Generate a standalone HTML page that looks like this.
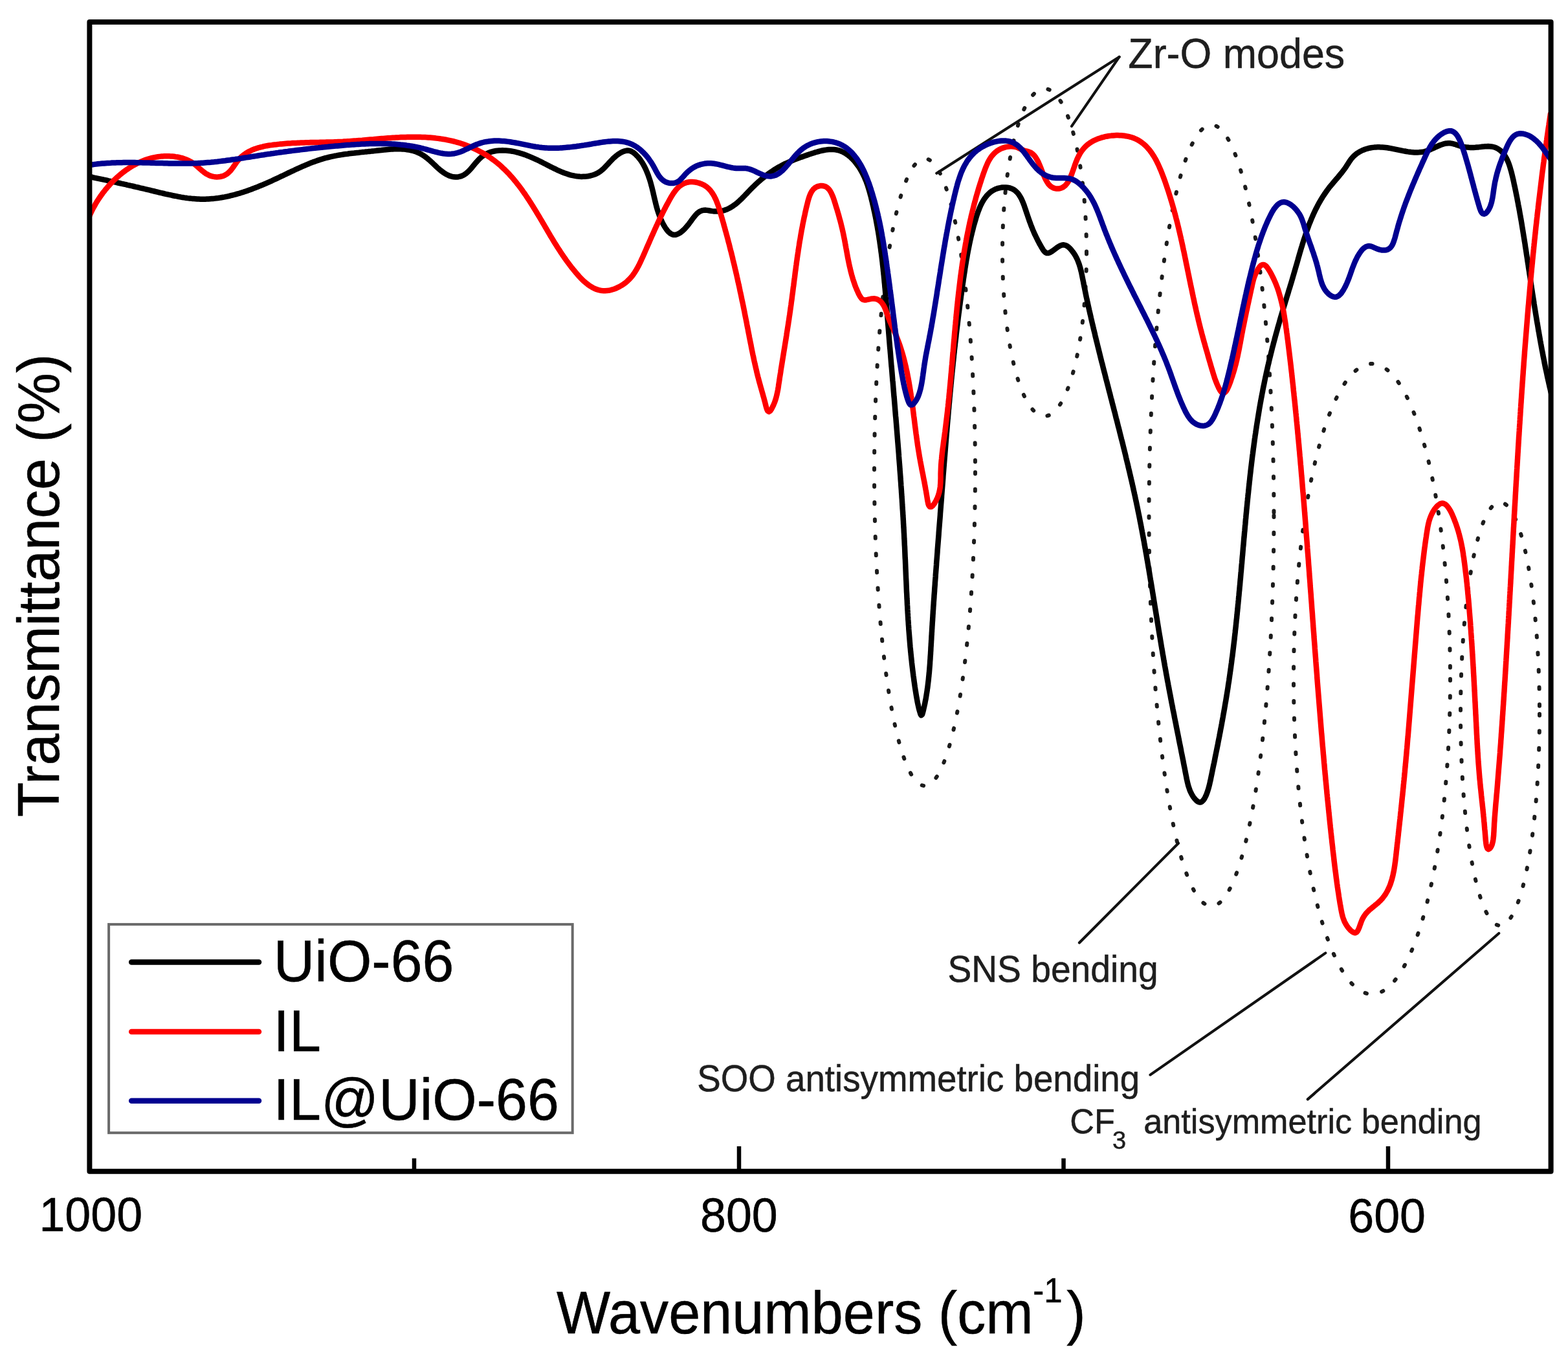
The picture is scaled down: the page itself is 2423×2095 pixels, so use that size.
<!DOCTYPE html>
<html><head><meta charset="utf-8"><title>FTIR spectra</title>
<style>html,body{margin:0;padding:0;background:#fff;}body{width:2423px;height:2095px;overflow:hidden;}svg{display:block;}</style>
</head><body><svg xmlns="http://www.w3.org/2000/svg" width="2423" height="2095" viewBox="0 0 2423 2095"><defs><clipPath id="pc"><rect x="139" y="34" width="2257" height="1774"/></clipPath></defs><g fill="none" stroke="#1c1c1c" stroke-width="6" stroke-linecap="round" stroke-dasharray="2.5 24"><ellipse cx="1429.0" cy="729.5" rx="78.0" ry="484.5"/><ellipse cx="1614.0" cy="390.0" rx="65.0" ry="253.0"/><ellipse cx="1872.0" cy="796.5" rx="96.5" ry="603.5"/><ellipse cx="2120.0" cy="1049.0" rx="121.0" ry="487.0"/><ellipse cx="2318.0" cy="1103.0" rx="61.0" ry="327.0"/></g><g stroke="#111" stroke-width="4.2" stroke-linecap="round"><line x1="1447.3" y1="267.7" x2="1729.6" y2="87.9"/><line x1="1655.9" y1="195.1" x2="1729.6" y2="87.9"/><line x1="1821.0" y1="1302.7" x2="1667.9" y2="1456.5"/><line x1="2048.3" y1="1472.4" x2="1777.5" y2="1660.6"/><line x1="2316.2" y1="1442.0" x2="2020.8" y2="1698.3"/></g><g fill="none" stroke-width="8.5" stroke-linejoin="round" stroke-linecap="round" clip-path="url(#pc)"><path stroke="#000" d="M140.8,273.5L143.3,274.0 145.7,274.6 148.2,275.1 150.6,275.6 153.1,276.1 155.5,276.6 158.0,277.1 160.4,277.7 162.9,278.2 165.3,278.7 167.7,279.3 170.2,279.8 172.6,280.3 175.1,280.9 177.5,281.4 179.9,281.9 182.4,282.5 184.8,283.0 187.3,283.6 189.7,284.1 192.1,284.7 194.6,285.2 197.0,285.8 199.5,286.3 201.9,286.9 204.3,287.4 206.8,288.0 209.2,288.6 211.6,289.1 214.1,289.7 216.5,290.3 218.9,290.8 221.4,291.4 223.8,292.0 226.2,292.6 228.7,293.2 231.1,293.7 233.5,294.3 235.9,294.9 238.4,295.5 240.8,296.1 243.2,296.7 245.7,297.3 248.1,297.9 250.5,298.4 253.0,299.0 255.4,299.6 257.8,300.1 260.3,300.7 262.7,301.2 265.2,301.7 267.6,302.3 270.0,302.7 272.5,303.2 275.0,303.7 277.4,304.1 279.9,304.6 282.3,305.0 284.8,305.4 287.3,305.7 289.8,306.1 292.2,306.4 294.7,306.6 297.2,306.9 299.7,307.1 302.2,307.3 304.7,307.5 307.2,307.6 309.7,307.7 312.2,307.7 314.7,307.7 317.2,307.7 319.7,307.6 322.2,307.5 324.7,307.3 327.2,307.1 329.7,306.9 332.1,306.6 334.6,306.3 337.1,306.0 339.6,305.6 342.0,305.2 344.5,304.8 347.0,304.4 349.4,303.9 351.9,303.4 354.3,302.8 356.7,302.2 359.2,301.6 361.6,301.0 364.0,300.4 366.4,299.7 368.8,299.0 371.2,298.3 373.6,297.5 376.0,296.8 378.3,296.0 380.7,295.2 383.1,294.4 385.4,293.5 387.8,292.7 390.1,291.8 392.4,290.9 394.8,290.0 397.1,289.1 399.4,288.2 401.7,287.2 404.0,286.3 406.3,285.3 408.6,284.3 410.9,283.3 413.2,282.3 415.5,281.3 417.8,280.3 420.1,279.3 422.3,278.2 424.6,277.2 426.9,276.1 429.1,275.1 431.4,274.0 433.7,272.9 435.9,271.8 438.2,270.8 440.4,269.7 442.7,268.6 444.9,267.5 447.2,266.5 449.5,265.4 451.7,264.3 454.0,263.3 456.2,262.2 458.5,261.2 460.8,260.1 463.1,259.1 465.3,258.1 467.6,257.0 469.9,256.1 472.2,255.1 474.5,254.1 476.8,253.2 479.2,252.2 481.5,251.3 483.8,250.4 486.2,249.6 488.5,248.7 490.9,247.9 493.3,247.1 495.6,246.3 498.0,245.6 500.4,244.9 502.8,244.2 505.2,243.6 507.7,243.0 510.1,242.4 512.5,241.8 515.0,241.3 517.4,240.8 519.9,240.4 522.3,239.9 524.8,239.5 527.3,239.1 529.7,238.7 532.2,238.3 534.7,238.0 537.2,237.7 539.6,237.3 542.1,237.0 544.6,236.7 547.1,236.5 549.6,236.2 552.1,235.9 554.5,235.7 557.0,235.4 559.5,235.1 562.0,234.9 564.5,234.6 567.0,234.4 569.5,234.1 572.0,233.9 574.4,233.6 576.9,233.4 579.4,233.1 581.9,232.8 584.4,232.5 586.9,232.2 589.3,232.0 591.8,231.7 594.3,231.4 596.8,231.2 599.3,231.0 601.8,230.8 604.3,230.6 606.8,230.4 609.3,230.3 611.8,230.3 614.3,230.2 616.8,230.2 619.3,230.3 621.8,230.4 624.3,230.6 626.7,230.8 629.2,231.2 631.7,231.6 634.1,232.0 636.6,232.6 639.0,233.2 641.4,234.0 643.7,234.8 646.0,235.8 648.3,236.8 650.5,238.0 652.7,239.2 654.8,240.6 656.8,242.0 658.8,243.5 660.8,245.1 662.7,246.7 664.6,248.4 666.4,250.0 668.2,251.7 670.1,253.5 671.9,255.2 673.7,256.9 675.5,258.6 677.4,260.3 679.3,261.9 681.2,263.5 683.2,265.0 685.2,266.5 687.3,267.9 689.4,269.2 691.6,270.3 693.9,271.4 696.3,272.2 698.7,272.8 701.1,273.3 703.6,273.5 706.1,273.5 708.6,273.2 711.0,272.7 713.4,271.9 715.7,270.9 717.9,269.6 719.9,268.2 721.8,266.6 723.7,264.9 725.4,263.1 727.1,261.3 728.7,259.4 730.3,257.5 731.9,255.6 733.5,253.6 735.1,251.7 736.8,249.8 738.4,248.0 740.2,246.1 741.9,244.4 743.8,242.8 745.8,241.2 747.9,239.8 750.0,238.5 752.2,237.4 754.5,236.3 756.8,235.4 759.2,234.7 761.6,234.0 764.1,233.5 766.5,233.0 769.0,232.7 771.5,232.5 774.0,232.4 776.5,232.3 779.0,232.4 781.5,232.5 784.0,232.7 786.4,233.0 788.9,233.3 791.4,233.7 793.8,234.2 796.3,234.7 798.7,235.3 801.1,235.9 803.5,236.6 805.9,237.3 808.3,238.1 810.7,238.9 813.0,239.8 815.4,240.7 817.7,241.6 820.0,242.6 822.3,243.6 824.6,244.6 826.8,245.6 829.1,246.7 831.4,247.7 833.6,248.8 835.8,249.9 838.1,251.1 840.3,252.2 842.5,253.3 844.8,254.5 847.0,255.6 849.2,256.7 851.4,257.9 853.7,259.0 855.9,260.1 858.2,261.2 860.4,262.3 862.7,263.3 865.0,264.3 867.3,265.3 869.6,266.3 871.9,267.2 874.3,268.0 876.6,268.8 879.0,269.6 881.4,270.3 883.8,270.9 886.3,271.4 888.7,271.9 891.2,272.3 893.7,272.6 896.2,272.8 898.7,272.9 901.2,272.8 903.7,272.7 906.2,272.5 908.6,272.2 911.1,271.8 913.5,271.2 915.9,270.5 918.3,269.7 920.6,268.8 922.9,267.7 925.0,266.5 927.1,265.1 929.1,263.6 931.0,262.0 932.9,260.3 934.7,258.5 936.4,256.7 938.1,254.9 939.8,253.1 941.5,251.2 943.2,249.4 944.9,247.6 946.6,245.8 948.4,244.0 950.3,242.4 952.2,240.8 954.2,239.2 956.2,237.8 958.3,236.5 960.5,235.3 962.8,234.2 965.2,233.4 967.6,232.8 970.1,232.6 972.6,232.8 975.0,233.6 977.2,234.7 979.3,236.1 981.2,237.6 983.0,239.4 984.8,241.2 986.4,243.0 988.0,245.0 989.5,246.9 990.9,249.0 992.3,251.1 993.6,253.2 994.8,255.4 996.0,257.6 997.1,259.9 998.1,262.1 999.1,264.4 1000.1,266.7 1001.0,269.1 1001.9,271.4 1002.7,273.8 1003.5,276.1 1004.3,278.5 1005.0,280.9 1005.7,283.3 1006.3,285.7 1007.0,288.1 1007.6,290.5 1008.2,293.0 1008.8,295.4 1009.4,297.8 1009.9,300.3 1010.5,302.7 1011.0,305.1 1011.6,307.6 1012.2,310.0 1012.8,312.4 1013.4,314.9 1014.0,317.3 1014.6,319.7 1015.3,322.1 1016.0,324.5 1016.8,326.9 1017.6,329.3 1018.4,331.6 1019.3,334.0 1020.2,336.3 1021.1,338.6 1022.2,340.9 1023.2,343.1 1024.4,345.4 1025.5,347.6 1026.8,349.7 1028.1,351.9 1029.5,353.9 1031.0,355.9 1032.7,357.8 1034.5,359.5 1036.5,361.0 1038.7,362.1 1041.1,362.8 1043.6,362.8 1046.0,362.2 1048.3,361.2 1050.5,359.9 1052.5,358.5 1054.5,356.9 1056.3,355.2 1058.1,353.4 1059.8,351.6 1061.4,349.7 1063.0,347.8 1064.6,345.8 1066.1,343.8 1067.6,341.8 1069.0,339.8 1070.5,337.8 1072.0,335.8 1073.6,333.8 1075.2,331.9 1076.9,330.1 1078.8,328.5 1080.8,327.1 1083.1,325.9 1085.4,325.1 1087.9,324.7 1090.4,324.6 1092.9,324.9 1095.3,325.3 1097.8,325.7 1100.3,326.1 1102.7,326.4 1105.2,326.6 1107.7,326.6 1110.2,326.5 1112.7,326.2 1115.2,325.8 1117.6,325.3 1120.0,324.6 1122.4,323.8 1124.7,322.8 1126.9,321.7 1129.1,320.5 1131.3,319.2 1133.3,317.8 1135.4,316.3 1137.3,314.8 1139.3,313.2 1141.1,311.6 1143.0,309.9 1144.8,308.2 1146.6,306.4 1148.4,304.7 1150.1,302.9 1151.8,301.1 1153.6,299.3 1155.3,297.4 1157.0,295.6 1158.7,293.8 1160.5,292.0 1162.2,290.3 1164.0,288.5 1165.8,286.8 1167.6,285.0 1169.4,283.3 1171.3,281.6 1173.2,280.0 1175.0,278.3 1176.9,276.7 1178.9,275.1 1180.8,273.6 1182.8,272.0 1184.8,270.5 1186.8,269.0 1188.8,267.5 1190.8,266.1 1192.9,264.7 1195.0,263.3 1197.1,261.9 1199.2,260.6 1201.3,259.3 1203.5,258.1 1205.7,256.9 1207.9,255.7 1210.1,254.5 1212.3,253.4 1214.6,252.3 1216.9,251.3 1219.1,250.3 1221.4,249.3 1223.7,248.3 1226.1,247.3 1228.4,246.4 1230.7,245.5 1233.0,244.6 1235.4,243.8 1237.7,242.9 1240.1,242.1 1242.5,241.3 1244.8,240.4 1247.2,239.6 1249.5,238.8 1251.9,238.0 1254.3,237.2 1256.7,236.5 1259.0,235.7 1261.4,235.0 1263.8,234.3 1266.3,233.6 1268.7,233.0 1271.1,232.5 1273.6,232.0 1276.0,231.6 1278.5,231.3 1281.0,231.0 1283.5,230.9 1286.0,230.9 1288.5,231.0 1291.0,231.3 1293.4,231.7 1295.9,232.3 1298.2,233.1 1300.6,234.0 1302.8,235.0 1305.1,236.2 1307.2,237.5 1309.3,238.9 1311.3,240.4 1313.2,241.9 1315.1,243.6 1316.9,245.3 1318.6,247.1 1320.3,249.0 1321.9,250.9 1323.4,252.9 1324.9,254.9 1326.4,256.9 1327.8,259.0 1329.1,261.1 1330.4,263.3 1331.6,265.4 1332.8,267.6 1333.9,269.9 1335.0,272.1 1336.0,274.4 1337.0,276.7 1338.0,279.0 1338.9,281.3 1339.7,283.7 1340.6,286.0 1341.3,288.4 1342.1,290.8 1342.8,293.2 1343.5,295.6 1344.2,298.0 1344.8,300.4 1345.5,302.8 1346.1,305.2 1346.7,307.7 1347.3,310.1 1347.9,312.5 1348.4,315.0 1349.0,317.4 1349.6,319.8 1350.1,322.3 1350.6,324.7 1351.2,327.2 1351.7,329.6 1352.2,332.1 1352.7,334.5 1353.2,337.0 1353.7,339.4 1354.1,341.9 1354.6,344.3 1355.0,346.8 1355.5,349.2 1355.9,351.7 1356.3,354.2 1356.8,356.6 1357.2,359.1 1357.6,361.6 1358.0,364.0 1358.4,366.5 1358.7,369.0 1359.1,371.4 1359.5,373.9 1359.8,376.4 1360.2,378.9 1360.5,381.3 1360.9,383.8 1361.2,386.3 1361.5,388.8 1361.9,391.2 1362.2,393.7 1362.5,396.2 1362.8,398.7 1363.1,401.2 1363.4,403.6 1363.7,406.1 1363.9,408.6 1364.2,411.1 1364.5,413.6 1364.8,416.1 1365.0,418.6 1365.3,421.0 1365.5,423.5 1365.8,426.0 1366.0,428.5 1366.3,431.0 1366.5,433.5 1366.7,436.0 1367.0,438.5 1367.2,440.9 1367.4,443.4 1367.7,445.9 1367.9,448.4 1368.1,450.9 1368.3,453.4 1368.5,455.9 1368.7,458.4 1369.0,460.9 1369.2,463.4 1369.4,465.8 1369.6,468.3 1369.8,470.8 1370.0,473.3 1370.2,475.8 1370.4,478.3 1370.6,480.8 1370.8,483.3 1371.0,485.8 1371.2,488.3 1371.4,490.8 1371.6,493.2 1371.8,495.7 1372.0,498.2 1372.2,500.7 1372.4,503.2 1372.6,505.7 1372.8,508.2 1373.0,510.7 1373.2,513.2 1373.4,515.7 1373.6,518.2 1373.8,520.6 1374.0,523.1 1374.2,525.6 1374.4,528.1 1374.6,530.6 1374.8,533.1 1375.0,535.6 1375.2,538.1 1375.5,540.6 1375.7,543.1 1375.9,545.6 1376.1,548.0 1376.3,550.5 1376.5,553.0 1376.7,555.5 1376.9,558.0 1377.1,560.5 1377.3,563.0 1377.5,565.5 1377.8,568.0 1378.0,570.5 1378.2,573.0 1378.4,575.4 1378.6,577.9 1378.8,580.4 1379.0,582.9 1379.2,585.4 1379.4,587.9 1379.7,590.4 1379.9,592.9 1380.1,595.4 1380.3,597.9 1380.5,600.4 1380.7,602.8 1380.9,605.3 1381.1,607.8 1381.3,610.3 1381.5,612.8 1381.8,615.3 1382.0,617.8 1382.2,620.3 1382.4,622.8 1382.6,625.3 1382.8,627.7 1383.0,630.2 1383.2,632.7 1383.4,635.2 1383.6,637.7 1383.8,640.2 1384.0,642.7 1384.3,645.2 1384.5,647.7 1384.7,650.2 1384.9,652.7 1385.1,655.1 1385.3,657.6 1385.5,660.1 1385.7,662.6 1385.9,665.1 1386.1,667.6 1386.3,670.1 1386.5,672.6 1386.7,675.1 1386.9,677.6 1387.1,680.1 1387.3,682.6 1387.5,685.0 1387.7,687.5 1387.9,690.0 1388.1,692.5 1388.3,695.0 1388.5,697.5 1388.7,700.0 1388.9,702.5 1389.0,705.0 1389.2,707.5 1389.4,710.0 1389.6,712.5 1389.8,714.9 1390.0,717.4 1390.2,719.9 1390.4,722.4 1390.5,724.9 1390.7,727.4 1390.9,729.9 1391.1,732.4 1391.3,734.9 1391.5,737.4 1391.6,739.9 1391.8,742.4 1392.0,744.9 1392.2,747.4 1392.3,749.8 1392.5,752.3 1392.7,754.8 1392.9,757.3 1393.0,759.8 1393.2,762.3 1393.4,764.8 1393.5,767.3 1393.7,769.8 1393.9,772.3 1394.0,774.8 1394.2,777.3 1394.3,779.8 1394.5,782.3 1394.6,784.8 1394.8,787.3 1395.0,789.8 1395.1,792.2 1395.3,794.7 1395.4,797.2 1395.6,799.7 1395.7,802.2 1395.9,804.7 1396.0,807.2 1396.1,809.7 1396.3,812.2 1396.4,814.7 1396.6,817.2 1396.7,819.7 1396.8,822.2 1397.0,824.7 1397.1,827.2 1397.2,829.7 1397.3,832.2 1397.5,834.7 1397.6,837.2 1397.7,839.7 1397.8,842.2 1398.0,844.7 1398.1,847.2 1398.2,849.7 1398.3,852.2 1398.4,854.6 1398.5,857.1 1398.6,859.6 1398.7,862.1 1398.9,864.6 1399.0,867.1 1399.1,869.6 1399.2,872.1 1399.3,874.6 1399.4,877.1 1399.5,879.6 1399.6,882.1 1399.7,884.6 1399.8,887.1 1399.9,889.6 1400.0,892.1 1400.1,894.6 1400.3,897.1 1400.4,899.6 1400.5,902.1 1400.6,904.6 1400.7,907.1 1400.8,909.6 1400.9,912.1 1401.0,914.6 1401.2,917.1 1401.3,919.6 1401.4,922.1 1401.5,924.6 1401.7,927.1 1401.8,929.6 1401.9,932.1 1402.0,934.5 1402.2,937.0 1402.3,939.5 1402.4,942.0 1402.6,944.5 1402.7,947.0 1402.9,949.5 1403.0,952.0 1403.2,954.5 1403.3,957.0 1403.5,959.5 1403.7,962.0 1403.8,964.5 1404.0,967.0 1404.2,969.5 1404.3,972.0 1404.5,974.5 1404.7,977.0 1404.9,979.4 1405.1,981.9 1405.3,984.4 1405.5,986.9 1405.7,989.4 1405.9,991.9 1406.1,994.4 1406.3,996.9 1406.5,999.4 1406.8,1001.9 1407.0,1004.4 1407.2,1006.8 1407.5,1009.3 1407.7,1011.8 1408.0,1014.3 1408.2,1016.8 1408.5,1019.3 1408.8,1021.8 1409.0,1024.2 1409.3,1026.7 1409.6,1029.2 1409.9,1031.7 1410.2,1034.2 1410.5,1036.7 1410.8,1039.1 1411.1,1041.6 1411.4,1044.1 1411.8,1046.6 1412.1,1049.1 1412.4,1051.5 1412.8,1054.0 1413.1,1056.5 1413.5,1059.0 1413.8,1061.4 1414.2,1063.9 1414.6,1066.4 1415.0,1068.8 1415.4,1071.3 1415.8,1073.8 1416.2,1076.2 1416.6,1078.7 1417.1,1081.2 1417.5,1083.6 1418.0,1086.1 1418.5,1088.5 1419.1,1091.0 1419.6,1093.4 1420.2,1095.8 1420.9,1098.2 1421.6,1100.6 1422.3,1103.0 1423.4,1105.2 1425.0,1104.1 1425.7,1101.7 1426.4,1099.3 1427.0,1096.9 1427.5,1094.4 1428.1,1092.0 1428.6,1089.6 1429.2,1087.1 1429.6,1084.7 1430.1,1082.2 1430.6,1079.8 1431.0,1077.3 1431.4,1074.8 1431.8,1072.4 1432.2,1069.9 1432.6,1067.4 1432.9,1064.9 1433.3,1062.5 1433.6,1060.0 1433.9,1057.5 1434.2,1055.0 1434.5,1052.5 1434.8,1050.1 1435.0,1047.6 1435.3,1045.1 1435.5,1042.6 1435.8,1040.1 1436.0,1037.6 1436.2,1035.1 1436.4,1032.6 1436.6,1030.1 1436.8,1027.7 1437.0,1025.2 1437.1,1022.7 1437.3,1020.2 1437.5,1017.7 1437.6,1015.2 1437.8,1012.7 1438.0,1010.2 1438.1,1007.7 1438.3,1005.2 1438.4,1002.7 1438.5,1000.2 1438.7,997.7 1438.8,995.2 1439.0,992.7 1439.1,990.2 1439.3,987.7 1439.4,985.2 1439.5,982.7 1439.7,980.3 1439.8,977.8 1440.0,975.3 1440.1,972.8 1440.3,970.3 1440.4,967.8 1440.6,965.3 1440.7,962.8 1440.9,960.3 1441.1,957.8 1441.2,955.3 1441.4,952.8 1441.5,950.3 1441.7,947.8 1441.8,945.3 1442.0,942.8 1442.2,940.3 1442.3,937.8 1442.5,935.4 1442.7,932.9 1442.8,930.4 1443.0,927.9 1443.2,925.4 1443.4,922.9 1443.5,920.4 1443.7,917.9 1443.9,915.4 1444.1,912.9 1444.2,910.4 1444.4,907.9 1444.6,905.4 1444.8,902.9 1444.9,900.4 1445.1,898.0 1445.3,895.5 1445.5,893.0 1445.7,890.5 1445.8,888.0 1446.0,885.5 1446.2,883.0 1446.4,880.5 1446.6,878.0 1446.8,875.5 1447.0,873.0 1447.1,870.5 1447.3,868.0 1447.5,865.5 1447.7,863.1 1447.9,860.6 1448.1,858.1 1448.3,855.6 1448.5,853.1 1448.6,850.6 1448.8,848.1 1449.0,845.6 1449.2,843.1 1449.4,840.6 1449.6,838.1 1449.8,835.6 1450.0,833.1 1450.2,830.7 1450.4,828.2 1450.6,825.7 1450.7,823.2 1450.9,820.7 1451.1,818.2 1451.3,815.7 1451.5,813.2 1451.7,810.7 1451.9,808.2 1452.1,805.7 1452.3,803.2 1452.5,800.8 1452.7,798.3 1452.9,795.8 1453.0,793.3 1453.2,790.8 1453.4,788.3 1453.6,785.8 1453.8,783.3 1454.0,780.8 1454.2,778.3 1454.4,775.8 1454.6,773.3 1454.8,770.8 1455.0,768.4 1455.1,765.9 1455.3,763.4 1455.5,760.9 1455.7,758.4 1455.9,755.9 1456.1,753.4 1456.3,750.9 1456.5,748.4 1456.7,745.9 1456.9,743.4 1457.1,740.9 1457.3,738.4 1457.4,736.0 1457.6,733.5 1457.8,731.0 1458.0,728.5 1458.2,726.0 1458.4,723.5 1458.6,721.0 1458.8,718.5 1459.0,716.0 1459.2,713.5 1459.4,711.0 1459.6,708.5 1459.8,706.1 1460.0,703.6 1460.2,701.1 1460.4,698.6 1460.6,696.1 1460.8,693.6 1461.0,691.1 1461.2,688.6 1461.4,686.1 1461.6,683.6 1461.8,681.1 1462.0,678.7 1462.2,676.2 1462.4,673.7 1462.6,671.2 1462.8,668.7 1463.1,666.2 1463.3,663.7 1463.5,661.2 1463.7,658.7 1463.9,656.2 1464.1,653.7 1464.3,651.3 1464.5,648.8 1464.8,646.3 1465.0,643.8 1465.2,641.3 1465.4,638.8 1465.6,636.3 1465.8,633.8 1466.1,631.3 1466.3,628.8 1466.5,626.4 1466.7,623.9 1467.0,621.4 1467.2,618.9 1467.4,616.4 1467.6,613.9 1467.9,611.4 1468.1,608.9 1468.3,606.4 1468.6,604.0 1468.8,601.5 1469.0,599.0 1469.3,596.5 1469.5,594.0 1469.8,591.5 1470.0,589.0 1470.2,586.5 1470.5,584.0 1470.7,581.6 1471.0,579.1 1471.2,576.6 1471.5,574.1 1471.7,571.6 1472.0,569.1 1472.2,566.6 1472.5,564.2 1472.7,561.7 1473.0,559.2 1473.3,556.7 1473.5,554.2 1473.8,551.7 1474.0,549.2 1474.3,546.8 1474.6,544.3 1474.8,541.8 1475.1,539.3 1475.4,536.8 1475.7,534.3 1475.9,531.8 1476.2,529.4 1476.5,526.9 1476.8,524.4 1477.1,521.9 1477.4,519.4 1477.6,516.9 1477.9,514.5 1478.2,512.0 1478.5,509.5 1478.8,507.0 1479.1,504.5 1479.4,502.1 1479.7,499.6 1480.0,497.1 1480.3,494.6 1480.6,492.1 1480.9,489.6 1481.2,487.2 1481.5,484.7 1481.9,482.2 1482.2,479.7 1482.5,477.3 1482.8,474.8 1483.1,472.3 1483.5,469.8 1483.8,467.3 1484.1,464.9 1484.5,462.4 1484.8,459.9 1485.1,457.4 1485.5,455.0 1485.8,452.5 1486.2,450.0 1486.5,447.5 1486.9,445.1 1487.2,442.6 1487.6,440.1 1487.9,437.6 1488.3,435.2 1488.6,432.7 1489.0,430.2 1489.4,427.7 1489.7,425.3 1490.1,422.8 1490.5,420.3 1490.9,417.9 1491.2,415.4 1491.6,412.9 1492.0,410.4 1492.4,408.0 1492.8,405.5 1493.2,403.0 1493.6,400.6 1494.1,398.1 1494.5,395.7 1494.9,393.2 1495.4,390.7 1495.8,388.3 1496.3,385.8 1496.8,383.4 1497.3,380.9 1497.8,378.5 1498.3,376.0 1498.8,373.6 1499.3,371.1 1499.9,368.7 1500.4,366.3 1501.0,363.8 1501.6,361.4 1502.1,359.0 1502.8,356.5 1503.4,354.1 1504.0,351.7 1504.6,349.3 1505.3,346.9 1506.0,344.5 1506.7,342.1 1507.4,339.7 1508.1,337.3 1508.8,334.9 1509.6,332.5 1510.4,330.1 1511.2,327.8 1512.1,325.4 1513.0,323.1 1513.9,320.8 1514.9,318.5 1516.0,316.2 1517.1,314.0 1518.3,311.8 1519.6,309.6 1520.9,307.5 1522.4,305.5 1523.9,303.5 1525.5,301.6 1527.2,299.8 1529.1,298.1 1531.0,296.5 1533.0,295.1 1535.2,293.8 1537.4,292.7 1539.7,291.7 1542.1,290.9 1544.5,290.3 1547.0,289.8 1549.4,289.5 1551.9,289.4 1554.4,289.5 1556.9,289.7 1559.4,290.2 1561.8,290.9 1564.1,291.8 1566.3,292.9 1568.4,294.3 1570.3,295.9 1572.1,297.7 1573.7,299.6 1575.1,301.7 1576.4,303.8 1577.7,306.0 1578.8,308.2 1579.8,310.5 1580.8,312.8 1581.7,315.1 1582.6,317.4 1583.4,319.8 1584.2,322.2 1585.0,324.5 1585.8,326.9 1586.6,329.3 1587.4,331.6 1588.2,334.0 1589.0,336.4 1589.8,338.7 1590.6,341.1 1591.5,343.4 1592.4,345.8 1593.2,348.1 1594.2,350.5 1595.1,352.8 1596.0,355.1 1597.0,357.4 1598.0,359.7 1599.0,362.0 1600.1,364.2 1601.2,366.5 1602.3,368.7 1603.4,371.0 1604.6,373.2 1605.7,375.4 1606.9,377.6 1608.2,379.7 1609.4,381.9 1610.7,384.0 1612.0,386.2 1613.5,388.2 1615.3,389.9 1617.5,391.1 1620.0,391.0 1622.3,390.2 1624.5,389.0 1626.6,387.6 1628.6,386.1 1630.6,384.6 1632.6,383.1 1634.6,381.7 1636.8,380.4 1639.0,379.3 1641.4,378.5 1643.8,378.3 1646.3,378.8 1648.5,379.9 1650.6,381.3 1652.5,382.9 1654.2,384.7 1655.8,386.6 1657.4,388.6 1658.9,390.6 1660.3,392.7 1661.6,394.8 1662.8,397.0 1663.9,399.2 1665.0,401.5 1665.9,403.8 1666.8,406.1 1667.7,408.5 1668.4,410.9 1669.1,413.3 1669.8,415.7 1670.4,418.1 1671.0,420.5 1671.5,423.0 1672.0,425.4 1672.5,427.9 1673.0,430.3 1673.5,432.8 1674.0,435.2 1674.4,437.7 1674.9,440.1 1675.4,442.6 1675.9,445.0 1676.4,447.5 1676.9,449.9 1677.4,452.4 1677.9,454.8 1678.4,457.3 1678.9,459.7 1679.5,462.2 1680.0,464.6 1680.5,467.0 1681.1,469.5 1681.6,471.9 1682.1,474.4 1682.7,476.8 1683.2,479.2 1683.8,481.7 1684.3,484.1 1684.9,486.5 1685.5,489.0 1686.0,491.4 1686.6,493.9 1687.1,496.3 1687.7,498.7 1688.3,501.2 1688.9,503.6 1689.4,506.0 1690.0,508.5 1690.6,510.9 1691.2,513.3 1691.8,515.7 1692.3,518.2 1692.9,520.6 1693.5,523.0 1694.1,525.5 1694.7,527.9 1695.3,530.3 1695.9,532.7 1696.5,535.2 1697.1,537.6 1697.7,540.0 1698.3,542.5 1698.9,544.9 1699.5,547.3 1700.1,549.7 1700.7,552.2 1701.3,554.6 1701.9,557.0 1702.5,559.4 1703.2,561.8 1703.8,564.3 1704.4,566.7 1705.0,569.1 1705.6,571.5 1706.2,574.0 1706.9,576.4 1707.5,578.8 1708.1,581.2 1708.7,583.6 1709.3,586.1 1710.0,588.5 1710.6,590.9 1711.2,593.3 1711.8,595.7 1712.5,598.2 1713.1,600.6 1713.7,603.0 1714.3,605.4 1715.0,607.8 1715.6,610.3 1716.2,612.7 1716.8,615.1 1717.5,617.5 1718.1,619.9 1718.7,622.4 1719.3,624.8 1720.0,627.2 1720.6,629.6 1721.2,632.0 1721.8,634.5 1722.5,636.9 1723.1,639.3 1723.7,641.7 1724.3,644.2 1724.9,646.6 1725.6,649.0 1726.2,651.4 1726.8,653.8 1727.4,656.3 1728.0,658.7 1728.7,661.1 1729.3,663.5 1729.9,665.9 1730.5,668.4 1731.1,670.8 1731.7,673.2 1732.3,675.6 1732.9,678.1 1733.6,680.5 1734.2,682.9 1734.8,685.3 1735.4,687.8 1736.0,690.2 1736.6,692.6 1737.2,695.0 1737.8,697.5 1738.4,699.9 1739.0,702.3 1739.6,704.8 1740.1,707.2 1740.7,709.6 1741.3,712.0 1741.9,714.5 1742.5,716.9 1743.1,719.3 1743.6,721.8 1744.2,724.2 1744.8,726.6 1745.4,729.1 1745.9,731.5 1746.5,733.9 1747.1,736.4 1747.6,738.8 1748.2,741.2 1748.8,743.7 1749.3,746.1 1749.9,748.5 1750.4,751.0 1751.0,753.4 1751.5,755.9 1752.0,758.3 1752.6,760.7 1753.1,763.2 1753.7,765.6 1754.2,768.1 1754.7,770.5 1755.2,773.0 1755.8,775.4 1756.3,777.8 1756.8,780.3 1757.3,782.7 1757.8,785.2 1758.3,787.6 1758.8,790.1 1759.3,792.5 1759.8,795.0 1760.3,797.4 1760.8,799.9 1761.3,802.3 1761.7,804.8 1762.2,807.2 1762.7,809.7 1763.2,812.2 1763.6,814.6 1764.1,817.1 1764.6,819.5 1765.0,822.0 1765.5,824.4 1765.9,826.9 1766.4,829.3 1766.9,831.8 1767.3,834.3 1767.8,836.7 1768.2,839.2 1768.6,841.6 1769.1,844.1 1769.5,846.6 1770.0,849.0 1770.4,851.5 1770.8,853.9 1771.3,856.4 1771.7,858.9 1772.1,861.3 1772.5,863.8 1773.0,866.3 1773.4,868.7 1773.8,871.2 1774.2,873.7 1774.6,876.1 1775.1,878.6 1775.5,881.0 1775.9,883.5 1776.3,886.0 1776.7,888.4 1777.1,890.9 1777.5,893.4 1777.9,895.8 1778.4,898.3 1778.8,900.8 1779.2,903.2 1779.6,905.7 1780.0,908.2 1780.4,910.6 1780.8,913.1 1781.2,915.6 1781.6,918.0 1782.0,920.5 1782.4,923.0 1782.8,925.4 1783.2,927.9 1783.6,930.4 1784.0,932.8 1784.4,935.3 1784.8,937.8 1785.2,940.2 1785.6,942.7 1786.0,945.2 1786.4,947.6 1786.8,950.1 1787.2,952.6 1787.6,955.0 1788.0,957.5 1788.4,960.0 1788.8,962.4 1789.2,964.9 1789.6,967.4 1790.0,969.8 1790.4,972.3 1790.8,974.8 1791.2,977.2 1791.6,979.7 1792.0,982.2 1792.5,984.6 1792.9,987.1 1793.3,989.6 1793.7,992.0 1794.1,994.5 1794.5,997.0 1794.9,999.4 1795.3,1001.9 1795.8,1004.4 1796.2,1006.8 1796.6,1009.3 1797.0,1011.8 1797.5,1014.2 1797.9,1016.7 1798.3,1019.1 1798.7,1021.6 1799.2,1024.1 1799.6,1026.5 1800.0,1029.0 1800.5,1031.4 1800.9,1033.9 1801.4,1036.4 1801.8,1038.8 1802.2,1041.3 1802.7,1043.7 1803.1,1046.2 1803.6,1048.7 1804.0,1051.1 1804.5,1053.6 1805.0,1056.0 1805.4,1058.5 1805.9,1061.0 1806.3,1063.4 1806.8,1065.9 1807.3,1068.3 1807.7,1070.8 1808.2,1073.2 1808.7,1075.7 1809.1,1078.1 1809.6,1080.6 1810.1,1083.1 1810.5,1085.5 1811.0,1088.0 1811.5,1090.4 1812.0,1092.9 1812.4,1095.3 1812.9,1097.8 1813.4,1100.2 1813.9,1102.7 1814.4,1105.1 1814.8,1107.6 1815.3,1110.0 1815.8,1112.5 1816.3,1114.9 1816.8,1117.4 1817.3,1119.8 1817.7,1122.3 1818.2,1124.7 1818.7,1127.2 1819.2,1129.7 1819.7,1132.1 1820.2,1134.6 1820.7,1137.0 1821.2,1139.5 1821.6,1141.9 1822.1,1144.4 1822.6,1146.8 1823.1,1149.3 1823.6,1151.7 1824.1,1154.2 1824.6,1156.6 1825.1,1159.1 1825.5,1161.5 1826.0,1164.0 1826.5,1166.4 1827.0,1168.9 1827.5,1171.3 1828.0,1173.8 1828.5,1176.2 1828.9,1178.7 1829.4,1181.1 1829.9,1183.6 1830.4,1186.0 1830.9,1188.5 1831.3,1190.9 1831.8,1193.4 1832.3,1195.9 1832.8,1198.3 1833.3,1200.8 1833.7,1203.2 1834.3,1205.7 1834.8,1208.1 1835.4,1210.5 1836.0,1213.0 1836.7,1215.4 1837.5,1217.7 1838.3,1220.1 1839.2,1222.4 1840.3,1224.7 1841.4,1226.9 1842.7,1229.1 1844.0,1231.2 1845.5,1233.2 1847.1,1235.1 1848.9,1236.9 1850.8,1238.4 1853.1,1239.5 1855.5,1239.4 1857.7,1238.2 1859.4,1236.4 1860.9,1234.4 1862.1,1232.2 1863.2,1230.0 1864.2,1227.7 1865.1,1225.3 1865.9,1223.0 1866.7,1220.6 1867.4,1218.2 1868.1,1215.8 1868.7,1213.4 1869.3,1211.0 1869.8,1208.5 1870.4,1206.1 1870.9,1203.6 1871.4,1201.2 1871.9,1198.7 1872.4,1196.3 1872.9,1193.9 1873.4,1191.4 1873.9,1189.0 1874.4,1186.5 1874.9,1184.1 1875.4,1181.6 1876.0,1179.2 1876.5,1176.7 1877.0,1174.3 1877.4,1171.8 1877.9,1169.4 1878.4,1166.9 1878.9,1164.5 1879.4,1162.0 1879.9,1159.6 1880.4,1157.1 1880.9,1154.7 1881.4,1152.2 1881.9,1149.8 1882.3,1147.3 1882.8,1144.9 1883.3,1142.4 1883.8,1140.0 1884.3,1137.5 1884.7,1135.0 1885.2,1132.6 1885.7,1130.1 1886.1,1127.7 1886.6,1125.2 1887.1,1122.8 1887.5,1120.3 1888.0,1117.8 1888.4,1115.4 1888.9,1112.9 1889.3,1110.5 1889.8,1108.0 1890.2,1105.6 1890.6,1103.1 1891.1,1100.6 1891.5,1098.2 1892.0,1095.7 1892.4,1093.2 1892.8,1090.8 1893.2,1088.3 1893.6,1085.9 1894.1,1083.4 1894.5,1080.9 1894.9,1078.5 1895.3,1076.0 1895.7,1073.5 1896.1,1071.1 1896.5,1068.6 1896.9,1066.1 1897.3,1063.7 1897.7,1061.2 1898.0,1058.7 1898.4,1056.2 1898.8,1053.8 1899.2,1051.3 1899.5,1048.8 1899.9,1046.4 1900.2,1043.9 1900.6,1041.4 1900.9,1038.9 1901.3,1036.5 1901.6,1034.0 1902.0,1031.5 1902.3,1029.0 1902.6,1026.6 1903.0,1024.1 1903.3,1021.6 1903.6,1019.1 1903.9,1016.6 1904.3,1014.2 1904.6,1011.7 1904.9,1009.2 1905.2,1006.7 1905.5,1004.2 1905.8,1001.8 1906.1,999.3 1906.4,996.8 1906.7,994.3 1907.0,991.8 1907.3,989.3 1907.6,986.9 1907.8,984.4 1908.1,981.9 1908.4,979.4 1908.7,976.9 1908.9,974.4 1909.2,972.0 1909.5,969.5 1909.8,967.0 1910.0,964.5 1910.3,962.0 1910.5,959.5 1910.8,957.0 1911.1,954.6 1911.3,952.1 1911.6,949.6 1911.8,947.1 1912.1,944.6 1912.3,942.1 1912.6,939.6 1912.8,937.1 1913.0,934.7 1913.3,932.2 1913.5,929.7 1913.8,927.2 1914.0,924.7 1914.2,922.2 1914.5,919.7 1914.7,917.2 1914.9,914.8 1915.2,912.3 1915.4,909.8 1915.6,907.3 1915.9,904.8 1916.1,902.3 1916.3,899.8 1916.5,897.3 1916.8,894.8 1917.0,892.4 1917.2,889.9 1917.4,887.4 1917.6,884.9 1917.9,882.4 1918.1,879.9 1918.3,877.4 1918.5,874.9 1918.7,872.4 1919.0,869.9 1919.2,867.5 1919.4,865.0 1919.6,862.5 1919.8,860.0 1920.1,857.5 1920.3,855.0 1920.5,852.5 1920.7,850.0 1920.9,847.5 1921.1,845.0 1921.4,842.6 1921.6,840.1 1921.8,837.6 1922.0,835.1 1922.2,832.6 1922.5,830.1 1922.7,827.6 1922.9,825.1 1923.1,822.6 1923.4,820.2 1923.6,817.7 1923.8,815.2 1924.0,812.7 1924.3,810.2 1924.5,807.7 1924.7,805.2 1924.9,802.7 1925.2,800.2 1925.4,797.7 1925.6,795.3 1925.9,792.8 1926.1,790.3 1926.3,787.8 1926.6,785.3 1926.8,782.8 1927.1,780.3 1927.3,777.8 1927.5,775.4 1927.8,772.9 1928.0,770.4 1928.3,767.9 1928.5,765.4 1928.8,762.9 1929.1,760.4 1929.3,757.9 1929.6,755.5 1929.8,753.0 1930.1,750.5 1930.4,748.0 1930.6,745.5 1930.9,743.0 1931.2,740.6 1931.4,738.1 1931.7,735.6 1932.0,733.1 1932.3,730.6 1932.6,728.1 1932.8,725.6 1933.1,723.2 1933.4,720.7 1933.7,718.2 1934.0,715.7 1934.3,713.2 1934.6,710.8 1934.9,708.3 1935.2,705.8 1935.5,703.3 1935.9,700.8 1936.2,698.4 1936.5,695.9 1936.8,693.4 1937.2,690.9 1937.5,688.4 1937.8,686.0 1938.2,683.5 1938.5,681.0 1938.8,678.5 1939.2,676.1 1939.5,673.6 1939.9,671.1 1940.3,668.6 1940.6,666.2 1941.0,663.7 1941.4,661.2 1941.7,658.8 1942.1,656.3 1942.5,653.8 1942.9,651.3 1943.3,648.9 1943.7,646.4 1944.1,643.9 1944.5,641.5 1944.9,639.0 1945.3,636.5 1945.7,634.1 1946.1,631.6 1946.5,629.2 1947.0,626.7 1947.4,624.2 1947.8,621.8 1948.3,619.3 1948.7,616.8 1949.2,614.4 1949.7,611.9 1950.1,609.5 1950.6,607.0 1951.1,604.6 1951.5,602.1 1952.0,599.7 1952.5,597.2 1953.0,594.8 1953.5,592.3 1954.0,589.9 1954.5,587.4 1955.0,585.0 1955.5,582.5 1956.1,580.1 1956.6,577.6 1957.1,575.2 1957.7,572.8 1958.2,570.3 1958.8,567.9 1959.3,565.4 1959.9,563.0 1960.5,560.6 1961.0,558.1 1961.6,555.7 1962.2,553.3 1962.8,550.9 1963.4,548.4 1964.0,546.0 1964.6,543.6 1965.2,541.2 1965.8,538.7 1966.4,536.3 1967.1,533.9 1967.7,531.5 1968.3,529.1 1969.0,526.6 1969.6,524.2 1970.3,521.8 1970.9,519.4 1971.6,517.0 1972.2,514.6 1972.9,512.2 1973.6,509.8 1974.2,507.3 1974.9,504.9 1975.6,502.5 1976.3,500.1 1977.0,497.7 1977.7,495.3 1978.3,492.9 1979.0,490.5 1979.7,488.1 1980.5,485.7 1981.2,483.3 1981.9,480.9 1982.6,478.5 1983.3,476.1 1984.0,473.7 1984.8,471.4 1985.5,469.0 1986.2,466.6 1986.9,464.2 1987.7,461.8 1988.4,459.4 1989.1,457.0 1989.9,454.6 1990.6,452.2 1991.3,449.8 1992.0,447.4 1992.8,445.1 1993.5,442.7 1994.2,440.3 1995.0,437.9 1995.7,435.5 1996.4,433.1 1997.1,430.7 1997.8,428.3 1998.5,425.9 1999.2,423.5 1999.9,421.1 2000.6,418.7 2001.3,416.3 2002.0,413.9 2002.7,411.5 2003.4,409.1 2004.1,406.7 2004.8,404.3 2005.5,401.9 2006.1,399.5 2006.8,397.1 2007.5,394.7 2008.2,392.3 2008.9,389.9 2009.6,387.5 2010.3,385.1 2011.0,382.7 2011.8,380.3 2012.5,377.9 2013.2,375.5 2014.0,373.1 2014.7,370.8 2015.5,368.4 2016.3,366.0 2017.1,363.6 2017.8,361.3 2018.7,358.9 2019.5,356.5 2020.3,354.2 2021.2,351.8 2022.0,349.5 2022.9,347.1 2023.8,344.8 2024.8,342.5 2025.7,340.2 2026.6,337.9 2027.6,335.6 2028.6,333.3 2029.6,331.0 2030.7,328.7 2031.7,326.5 2032.8,324.2 2033.9,322.0 2035.1,319.7 2036.2,317.5 2037.4,315.3 2038.6,313.1 2039.9,311.0 2041.1,308.8 2042.4,306.7 2043.7,304.5 2045.1,302.4 2046.5,300.3 2047.9,298.3 2049.3,296.2 2050.7,294.2 2052.2,292.2 2053.7,290.2 2055.3,288.2 2056.9,286.3 2058.5,284.4 2060.1,282.5 2061.7,280.6 2063.3,278.7 2064.9,276.8 2066.6,274.9 2068.2,273.0 2069.8,271.0 2071.4,269.1 2073.0,267.2 2074.5,265.2 2076.0,263.2 2077.5,261.2 2079.0,259.2 2080.4,257.1 2081.7,255.0 2083.1,252.9 2084.4,250.8 2085.8,248.7 2087.2,246.7 2088.8,244.7 2090.4,242.8 2092.1,241.0 2094.0,239.3 2095.9,237.8 2098.0,236.3 2100.1,235.0 2102.3,233.8 2104.5,232.7 2106.8,231.7 2109.1,230.8 2111.5,230.0 2113.9,229.3 2116.3,228.7 2118.8,228.3 2121.3,227.9 2123.8,227.6 2126.2,227.4 2128.7,227.3 2131.2,227.3 2133.7,227.4 2136.2,227.5 2138.7,227.7 2141.2,228.0 2143.7,228.3 2146.2,228.7 2148.6,229.1 2151.1,229.6 2153.5,230.1 2156.0,230.6 2158.4,231.1 2160.9,231.6 2163.3,232.1 2165.8,232.6 2168.2,233.1 2170.7,233.5 2173.1,234.0 2175.6,234.4 2178.1,234.7 2180.6,235.0 2183.1,235.2 2185.5,235.4 2188.0,235.5 2190.5,235.4 2193.0,235.3 2195.5,235.1 2198.0,234.8 2200.5,234.3 2202.9,233.7 2205.3,233.0 2207.6,232.1 2210.0,231.2 2212.2,230.2 2214.5,229.2 2216.8,228.1 2219.0,227.0 2221.3,226.0 2223.6,225.0 2225.9,224.0 2228.3,223.2 2230.6,222.4 2233.1,221.8 2235.5,221.4 2238.0,221.2 2240.5,221.3 2243.0,221.6 2245.4,222.2 2247.9,222.8 2250.2,223.6 2252.6,224.3 2255.0,225.1 2257.4,225.8 2259.8,226.4 2262.3,226.9 2264.7,227.3 2267.2,227.6 2269.7,227.8 2272.2,227.9 2274.7,227.9 2277.2,227.9 2279.7,227.8 2282.2,227.6 2284.7,227.4 2287.2,227.1 2289.7,226.8 2292.1,226.6 2294.6,226.3 2297.1,226.2 2299.6,226.1 2302.1,226.2 2304.6,226.4 2307.1,226.9 2309.5,227.5 2311.8,228.4 2314.1,229.5 2316.2,230.8 2318.2,232.3 2320.1,233.9 2321.8,235.7 2323.4,237.7 2324.9,239.7 2326.2,241.8 2327.5,243.9 2328.6,246.2 2329.7,248.4 2330.7,250.7 2331.6,253.1 2332.4,255.4 2333.2,257.8 2333.9,260.2 2334.6,262.6 2335.3,265.0 2335.9,267.4 2336.5,269.8 2337.1,272.3 2337.7,274.7 2338.2,277.1 2338.8,279.6 2339.3,282.0 2339.8,284.5 2340.3,286.9 2340.9,289.3 2341.4,291.8 2341.9,294.2 2342.4,296.7 2342.9,299.1 2343.4,301.6 2343.9,304.0 2344.4,306.5 2344.8,308.9 2345.3,311.4 2345.8,313.9 2346.2,316.3 2346.7,318.8 2347.2,321.2 2347.6,323.7 2348.1,326.1 2348.5,328.6 2348.9,331.1 2349.4,333.5 2349.8,336.0 2350.2,338.4 2350.7,340.9 2351.1,343.4 2351.5,345.8 2351.9,348.3 2352.3,350.8 2352.7,353.2 2353.1,355.7 2353.5,358.2 2353.9,360.6 2354.3,363.1 2354.7,365.6 2355.1,368.0 2355.5,370.5 2355.9,373.0 2356.3,375.4 2356.7,377.9 2357.0,380.4 2357.4,382.9 2357.8,385.3 2358.2,387.8 2358.6,390.3 2358.9,392.7 2359.3,395.2 2359.7,397.7 2360.1,400.2 2360.4,402.6 2360.8,405.1 2361.2,407.6 2361.6,410.0 2361.9,412.5 2362.3,415.0 2362.7,417.5 2363.1,419.9 2363.4,422.4 2363.8,424.9 2364.2,427.3 2364.6,429.8 2364.9,432.3 2365.3,434.8 2365.7,437.2 2366.1,439.7 2366.4,442.2 2366.8,444.6 2367.2,447.1 2367.6,449.6 2367.9,452.0 2368.3,454.5 2368.7,457.0 2369.1,459.5 2369.5,461.9 2369.9,464.4 2370.3,466.9 2370.6,469.3 2371.0,471.8 2371.4,474.3 2371.8,476.7 2372.2,479.2 2372.6,481.7 2373.0,484.1 2373.4,486.6 2373.8,489.1 2374.2,491.5 2374.6,494.0 2375.0,496.5 2375.4,498.9 2375.9,501.4 2376.3,503.9 2376.7,506.3 2377.1,508.8 2377.5,511.3 2378.0,513.7 2378.4,516.2 2378.8,518.6 2379.3,521.1 2379.7,523.6 2380.1,526.0 2380.6,528.5 2381.0,531.0 2381.5,533.4 2381.9,535.9 2382.4,538.3 2382.8,540.8 2383.3,543.2 2383.8,545.7 2384.2,548.1 2384.7,550.6 2385.2,553.1 2385.7,555.5 2386.2,558.0 2386.6,560.4 2387.1,562.9 2387.6,565.3 2388.1,567.8 2388.6,570.2 2389.2,572.7 2389.7,575.1 2390.2,577.5 2390.7,580.0 2391.2,582.4 2391.8,584.9 2392.3,587.3 2392.9,589.8 2393.4,592.2 2394.0,594.6 2394.5,597.1 2395.1,599.5 2395.7,601.9 2396.2,604.4 2396.8,606.8 2397.4,609.2 2398.0,611.7"/><path stroke="#ff0000" d="M138.4,333.2L139.4,330.9 140.5,328.6 141.6,326.4 142.7,324.2 143.9,321.9 145.1,319.7 146.3,317.6 147.5,315.4 148.8,313.2 150.1,311.1 151.4,309.0 152.8,306.9 154.2,304.8 155.6,302.8 157.1,300.7 158.5,298.7 160.1,296.7 161.6,294.8 163.1,292.8 164.7,290.9 166.3,289.0 168.0,287.1 169.7,285.2 171.4,283.4 173.1,281.6 174.8,279.8 176.6,278.0 178.4,276.3 180.2,274.6 182.1,272.9 184.0,271.3 185.9,269.6 187.8,268.1 189.8,266.5 191.8,265.0 193.8,263.5 195.8,262.1 197.9,260.7 200.0,259.3 202.1,258.0 204.2,256.7 206.4,255.4 208.6,254.2 210.8,253.1 213.0,251.9 215.3,250.9 217.6,249.9 219.9,248.9 222.2,248.0 224.6,247.1 226.9,246.3 229.3,245.5 231.7,244.8 234.1,244.2 236.5,243.6 239.0,243.1 241.5,242.6 243.9,242.2 246.4,241.9 248.9,241.6 251.4,241.4 253.9,241.3 256.4,241.2 258.9,241.2 261.4,241.3 263.9,241.4 266.4,241.6 268.8,241.8 271.3,242.2 273.8,242.5 276.2,243.0 278.7,243.6 281.1,244.2 283.5,244.9 285.9,245.8 288.2,246.6 290.5,247.6 292.7,248.7 294.9,249.9 297.0,251.2 299.1,252.7 301.1,254.2 303.1,255.7 305.0,257.3 306.9,259.0 308.7,260.6 310.6,262.3 312.5,263.9 314.5,265.5 316.5,267.0 318.5,268.4 320.7,269.6 322.9,270.8 325.2,271.7 327.6,272.4 330.1,272.9 332.5,273.3 335.0,273.4 337.5,273.3 340.0,273.0 342.5,272.5 344.9,271.8 347.2,270.8 349.4,269.6 351.4,268.2 353.3,266.6 355.1,264.8 356.8,263.0 358.3,261.0 359.8,259.0 361.2,257.0 362.7,254.9 364.1,252.8 365.5,250.8 367.0,248.8 368.6,246.9 370.3,245.0 372.0,243.2 373.9,241.5 375.8,239.9 377.8,238.4 379.8,237.0 382.0,235.7 384.1,234.4 386.4,233.3 388.6,232.2 390.9,231.2 393.2,230.3 395.6,229.5 398.0,228.7 400.4,228.0 402.8,227.3 405.2,226.8 407.6,226.2 410.1,225.7 412.6,225.2 415.0,224.8 417.5,224.4 420.0,224.1 422.4,223.7 424.9,223.4 427.4,223.2 429.9,222.9 432.4,222.6 434.9,222.4 437.4,222.2 439.8,222.0 442.3,221.8 444.8,221.6 447.3,221.4 449.8,221.3 452.3,221.1 454.8,221.0 457.3,220.9 459.8,220.8 462.3,220.7 464.8,220.6 467.3,220.5 469.8,220.4 472.3,220.3 474.8,220.3 477.3,220.2 479.8,220.1 482.3,220.1 484.8,220.0 487.3,220.0 489.8,219.9 492.3,219.9 494.8,219.8 497.3,219.8 499.8,219.7 502.3,219.7 504.8,219.6 507.3,219.6 509.8,219.5 512.3,219.4 514.8,219.4 517.3,219.3 519.8,219.2 522.3,219.1 524.8,219.0 527.3,218.9 529.8,218.8 532.3,218.6 534.8,218.5 537.3,218.3 539.8,218.2 542.2,218.0 544.7,217.8 547.2,217.6 549.7,217.5 552.2,217.3 554.7,217.1 557.2,216.9 559.7,216.7 562.2,216.4 564.7,216.2 567.2,216.0 569.7,215.8 572.1,215.6 574.6,215.4 577.1,215.2 579.6,214.9 582.1,214.7 584.6,214.5 587.1,214.3 589.6,214.1 592.1,213.9 594.6,213.7 597.1,213.5 599.6,213.3 602.0,213.2 604.5,213.0 607.0,212.8 609.5,212.7 612.0,212.5 614.5,212.4 617.0,212.3 619.5,212.1 622.0,212.0 624.5,211.9 627.0,211.9 629.5,211.8 632.0,211.7 634.5,211.7 637.0,211.7 639.5,211.7 642.0,211.7 644.5,211.7 647.0,211.7 649.5,211.8 652.0,211.9 654.5,212.0 657.0,212.1 659.5,212.2 662.0,212.4 664.5,212.6 667.0,212.8 669.5,213.0 671.9,213.3 674.4,213.6 676.9,213.9 679.4,214.2 681.9,214.6 684.3,215.0 686.8,215.4 689.3,215.8 691.7,216.3 694.2,216.8 696.6,217.3 699.0,217.9 701.5,218.5 703.9,219.2 706.3,219.8 708.7,220.5 711.1,221.2 713.5,222.0 715.8,222.8 718.2,223.6 720.5,224.5 722.9,225.4 725.2,226.3 727.5,227.3 729.8,228.3 732.1,229.3 734.3,230.3 736.6,231.4 738.8,232.6 741.0,233.7 743.2,234.9 745.4,236.1 747.6,237.3 749.7,238.6 751.9,239.9 754.0,241.3 756.1,242.6 758.1,244.0 760.2,245.5 762.2,246.9 764.2,248.4 766.2,250.0 768.1,251.5 770.1,253.1 772.0,254.7 773.9,256.4 775.7,258.1 777.5,259.8 779.4,261.5 781.1,263.2 782.9,265.0 784.6,266.8 786.4,268.6 788.0,270.5 789.7,272.3 791.4,274.2 793.0,276.1 794.6,278.0 796.2,279.9 797.8,281.9 799.3,283.8 800.9,285.8 802.4,287.8 803.9,289.8 805.4,291.8 806.9,293.8 808.3,295.9 809.7,297.9 811.2,299.9 812.6,302.0 814.0,304.1 815.4,306.2 816.8,308.2 818.1,310.3 819.5,312.4 820.8,314.5 822.2,316.7 823.5,318.8 824.8,320.9 826.1,323.0 827.4,325.2 828.7,327.3 830.0,329.4 831.3,331.6 832.6,333.7 833.9,335.9 835.1,338.0 836.4,340.2 837.7,342.3 838.9,344.5 840.2,346.6 841.5,348.8 842.7,351.0 844.0,353.1 845.3,355.3 846.5,357.4 847.8,359.6 849.1,361.7 850.3,363.9 851.6,366.0 852.9,368.2 854.2,370.3 855.5,372.4 856.8,374.6 858.1,376.7 859.5,378.8 860.8,380.9 862.1,383.0 863.5,385.1 864.9,387.2 866.2,389.3 867.6,391.4 869.0,393.5 870.4,395.5 871.8,397.6 873.3,399.6 874.7,401.7 876.2,403.7 877.7,405.7 879.2,407.7 880.7,409.7 882.2,411.7 883.7,413.7 885.3,415.6 886.9,417.6 888.5,419.5 890.1,421.4 891.7,423.3 893.3,425.2 895.0,427.1 896.7,428.9 898.5,430.7 900.2,432.4 902.0,434.2 903.9,435.8 905.8,437.4 907.8,439.0 909.8,440.5 911.8,441.9 913.9,443.2 916.1,444.5 918.4,445.6 920.6,446.6 923.0,447.4 925.4,448.1 927.8,448.7 930.3,449.0 932.8,449.2 935.3,449.2 937.8,449.1 940.3,448.8 942.7,448.3 945.2,447.7 947.6,447.0 949.9,446.2 952.2,445.3 954.5,444.2 956.8,443.1 958.9,441.9 961.1,440.6 963.2,439.2 965.2,437.8 967.2,436.3 969.1,434.6 970.9,432.9 972.7,431.2 974.4,429.3 976.0,427.4 977.6,425.5 979.0,423.5 980.5,421.4 981.8,419.3 983.1,417.2 984.4,415.0 985.6,412.8 986.8,410.6 987.9,408.4 989.0,406.1 990.0,403.9 991.1,401.6 992.1,399.3 993.2,397.1 994.2,394.8 995.2,392.5 996.2,390.2 997.2,387.9 998.2,385.6 999.2,383.3 1000.2,381.0 1001.2,378.7 1002.2,376.5 1003.2,374.2 1004.2,371.9 1005.2,369.6 1006.2,367.3 1007.2,365.0 1008.3,362.7 1009.3,360.4 1010.3,358.2 1011.3,355.9 1012.3,353.6 1013.4,351.3 1014.4,349.0 1015.5,346.8 1016.5,344.5 1017.6,342.2 1018.6,340.0 1019.7,337.7 1020.8,335.5 1021.9,333.2 1023.0,331.0 1024.1,328.7 1025.2,326.5 1026.3,324.3 1027.5,322.1 1028.6,319.8 1029.8,317.6 1031.0,315.4 1032.2,313.2 1033.4,311.0 1034.6,308.8 1035.8,306.7 1037.0,304.5 1038.3,302.3 1039.7,300.2 1041.0,298.1 1042.5,296.1 1044.0,294.1 1045.6,292.2 1047.3,290.4 1049.1,288.6 1051.0,287.0 1053.1,285.6 1055.2,284.3 1057.5,283.2 1059.8,282.4 1062.2,281.7 1064.7,281.3 1067.2,281.1 1069.7,281.1 1072.2,281.2 1074.7,281.5 1077.1,282.0 1079.5,282.6 1081.9,283.4 1084.3,284.3 1086.5,285.3 1088.7,286.5 1090.8,287.9 1092.8,289.4 1094.7,291.1 1096.4,292.8 1098.1,294.7 1099.6,296.7 1101.0,298.7 1102.3,300.9 1103.6,303.0 1104.7,305.3 1105.8,307.5 1106.8,309.8 1107.7,312.1 1108.6,314.5 1109.5,316.8 1110.3,319.2 1111.1,321.6 1111.8,323.9 1112.5,326.3 1113.2,328.7 1113.9,331.1 1114.6,333.5 1115.3,335.9 1116.0,338.3 1116.7,340.7 1117.4,343.1 1118.1,345.5 1118.7,348.0 1119.4,350.4 1120.1,352.8 1120.7,355.2 1121.4,357.6 1122.1,360.0 1122.7,362.4 1123.4,364.8 1124.0,367.2 1124.7,369.7 1125.3,372.1 1125.9,374.5 1126.6,376.9 1127.2,379.3 1127.8,381.8 1128.4,384.2 1129.0,386.6 1129.7,389.0 1130.3,391.4 1130.9,393.9 1131.5,396.3 1132.1,398.7 1132.6,401.2 1133.2,403.6 1133.8,406.0 1134.4,408.5 1135.0,410.9 1135.5,413.3 1136.1,415.8 1136.7,418.2 1137.2,420.6 1137.8,423.1 1138.4,425.5 1138.9,427.9 1139.5,430.4 1140.0,432.8 1140.5,435.3 1141.1,437.7 1141.6,440.1 1142.2,442.6 1142.7,445.0 1143.2,447.5 1143.7,449.9 1144.3,452.4 1144.8,454.8 1145.3,457.2 1145.8,459.7 1146.3,462.1 1146.8,464.6 1147.4,467.0 1147.9,469.5 1148.4,471.9 1148.9,474.4 1149.4,476.8 1149.9,479.3 1150.4,481.7 1150.8,484.2 1151.3,486.6 1151.8,489.1 1152.3,491.5 1152.8,494.0 1153.3,496.4 1153.8,498.9 1154.2,501.3 1154.7,503.8 1155.2,506.3 1155.7,508.7 1156.1,511.2 1156.6,513.6 1157.1,516.1 1157.6,518.5 1158.0,521.0 1158.5,523.4 1159.0,525.9 1159.5,528.3 1160.0,530.8 1160.5,533.2 1160.9,535.7 1161.4,538.1 1161.9,540.6 1162.4,543.0 1162.9,545.5 1163.4,547.9 1164.0,550.4 1164.5,552.8 1165.0,555.3 1165.5,557.7 1166.1,560.2 1166.6,562.6 1167.2,565.0 1167.7,567.5 1168.3,569.9 1168.9,572.3 1169.4,574.8 1170.0,577.2 1170.6,579.6 1171.2,582.1 1171.9,584.5 1172.5,586.9 1173.1,589.3 1173.8,591.7 1174.5,594.1 1175.1,596.5 1175.8,598.9 1176.5,601.3 1177.2,603.8 1177.9,606.2 1178.6,608.6 1179.2,611.0 1179.9,613.4 1180.6,615.8 1181.2,618.2 1181.9,620.6 1182.5,623.0 1183.1,625.5 1183.7,627.9 1184.4,630.3 1185.2,632.6 1186.3,634.9 1188.3,636.1 1190.3,634.7 1191.8,632.6 1193.0,630.5 1194.1,628.2 1195.2,626.0 1196.1,623.7 1197.1,621.3 1197.9,619.0 1198.7,616.6 1199.4,614.2 1200.0,611.8 1200.6,609.4 1201.1,606.9 1201.6,604.5 1202.1,602.0 1202.5,599.5 1202.9,597.1 1203.2,594.6 1203.6,592.1 1204.0,589.7 1204.4,587.2 1204.7,584.7 1205.1,582.2 1205.5,579.8 1205.9,577.3 1206.3,574.8 1206.6,572.4 1207.0,569.9 1207.4,567.4 1207.8,565.0 1208.2,562.5 1208.6,560.0 1209.0,557.5 1209.4,555.1 1209.8,552.6 1210.2,550.1 1210.6,547.7 1211.0,545.2 1211.4,542.7 1211.8,540.3 1212.2,537.8 1212.6,535.3 1213.0,532.9 1213.4,530.4 1213.8,527.9 1214.2,525.5 1214.6,523.0 1215.0,520.5 1215.4,518.1 1215.7,515.6 1216.1,513.1 1216.5,510.7 1216.9,508.2 1217.3,505.7 1217.7,503.2 1218.1,500.8 1218.4,498.3 1218.8,495.8 1219.2,493.4 1219.5,490.9 1219.9,488.4 1220.3,485.9 1220.6,483.5 1221.0,481.0 1221.3,478.5 1221.7,476.0 1222.0,473.6 1222.4,471.1 1222.7,468.6 1223.0,466.1 1223.4,463.7 1223.7,461.2 1224.0,458.7 1224.3,456.2 1224.7,453.7 1225.0,451.3 1225.3,448.8 1225.6,446.3 1225.9,443.8 1226.3,441.3 1226.6,438.9 1226.9,436.4 1227.2,433.9 1227.5,431.4 1227.9,428.9 1228.2,426.5 1228.5,424.0 1228.8,421.5 1229.1,419.0 1229.5,416.5 1229.8,414.1 1230.1,411.6 1230.5,409.1 1230.8,406.6 1231.1,404.2 1231.5,401.7 1231.8,399.2 1232.2,396.7 1232.5,394.3 1232.9,391.8 1233.3,389.3 1233.6,386.8 1234.0,384.4 1234.4,381.9 1234.8,379.4 1235.1,377.0 1235.5,374.5 1235.9,372.0 1236.4,369.6 1236.8,367.1 1237.2,364.6 1237.6,362.2 1238.1,359.7 1238.5,357.2 1238.9,354.8 1239.4,352.3 1239.9,349.9 1240.3,347.4 1240.8,345.0 1241.3,342.5 1241.8,340.1 1242.3,337.6 1242.8,335.2 1243.4,332.7 1243.9,330.3 1244.4,327.8 1245.0,325.4 1245.5,323.0 1246.1,320.5 1246.7,318.1 1247.3,315.7 1247.9,313.2 1248.5,310.8 1249.2,308.4 1249.9,306.0 1250.7,303.6 1251.6,301.3 1252.6,299.0 1253.7,296.8 1255.1,294.7 1256.6,292.7 1258.4,291.0 1260.4,289.5 1262.6,288.4 1265.0,287.6 1267.4,287.1 1269.9,287.0 1272.4,287.3 1274.8,287.9 1277.1,289.0 1279.0,290.6 1280.8,292.3 1282.3,294.3 1283.6,296.4 1284.8,298.7 1285.8,300.9 1286.8,303.2 1287.7,305.6 1288.5,307.9 1289.3,310.3 1290.0,312.7 1290.8,315.1 1291.5,317.5 1292.2,319.9 1293.0,322.3 1293.7,324.6 1294.4,327.0 1295.1,329.4 1295.8,331.8 1296.5,334.2 1297.1,336.7 1297.8,339.1 1298.5,341.5 1299.1,343.9 1299.7,346.3 1300.3,348.7 1300.9,351.2 1301.5,353.6 1302.0,356.0 1302.6,358.5 1303.1,360.9 1303.6,363.4 1304.1,365.8 1304.6,368.3 1305.1,370.7 1305.5,373.2 1306.0,375.7 1306.4,378.1 1306.9,380.6 1307.3,383.0 1307.8,385.5 1308.2,387.9 1308.7,390.4 1309.1,392.9 1309.6,395.3 1310.0,397.8 1310.5,400.2 1311.0,402.7 1311.5,405.1 1312.0,407.6 1312.5,410.0 1313.1,412.5 1313.7,414.9 1314.2,417.3 1314.8,419.8 1315.5,422.2 1316.1,424.6 1316.8,427.0 1317.5,429.4 1318.2,431.8 1319.0,434.2 1319.8,436.5 1320.6,438.9 1321.4,441.3 1322.3,443.6 1323.3,445.9 1324.2,448.2 1325.3,450.5 1326.3,452.8 1327.4,455.0 1328.6,457.2 1329.9,459.3 1331.4,461.3 1333.4,462.8 1335.8,463.5 1338.3,463.4 1340.7,462.9 1343.2,462.3 1345.6,461.8 1348.1,461.4 1350.6,461.3 1353.0,461.7 1355.4,462.4 1357.7,463.5 1359.7,464.9 1361.6,466.6 1363.2,468.5 1364.6,470.6 1365.9,472.7 1367.0,475.0 1368.0,477.3 1368.9,479.6 1369.7,481.9 1370.5,484.3 1371.4,486.7 1372.2,489.0 1373.1,491.4 1374.0,493.7 1374.9,496.0 1375.9,498.3 1376.9,500.6 1377.9,502.9 1378.9,505.2 1380.0,507.4 1381.0,509.7 1382.0,512.0 1383.0,514.3 1384.0,516.6 1385.0,518.9 1385.9,521.2 1386.8,523.5 1387.7,525.9 1388.6,528.2 1389.4,530.6 1390.3,532.9 1391.1,535.3 1391.8,537.7 1392.6,540.0 1393.3,542.4 1394.1,544.8 1394.8,547.2 1395.5,549.6 1396.1,552.0 1396.8,554.5 1397.4,556.9 1398.0,559.3 1398.6,561.7 1399.2,564.2 1399.8,566.6 1400.3,569.0 1400.8,571.5 1401.4,573.9 1401.9,576.4 1402.4,578.8 1402.8,581.3 1403.3,583.7 1403.8,586.2 1404.2,588.6 1404.7,591.1 1405.1,593.6 1405.5,596.0 1405.9,598.5 1406.3,601.0 1406.7,603.4 1407.1,605.9 1407.5,608.4 1407.8,610.8 1408.2,613.3 1408.5,615.8 1408.9,618.3 1409.2,620.7 1409.6,623.2 1409.9,625.7 1410.2,628.2 1410.6,630.7 1410.9,633.1 1411.2,635.6 1411.5,638.1 1411.8,640.6 1412.1,643.1 1412.5,645.5 1412.8,648.0 1413.1,650.5 1413.4,653.0 1413.7,655.5 1414.0,657.9 1414.3,660.4 1414.7,662.9 1415.0,665.4 1415.3,667.9 1415.6,670.3 1416.0,672.8 1416.3,675.3 1416.6,677.8 1417.0,680.2 1417.3,682.7 1417.7,685.2 1418.0,687.7 1418.4,690.1 1418.8,692.6 1419.2,695.1 1419.6,697.5 1420.0,700.0 1420.4,702.5 1420.8,704.9 1421.2,707.4 1421.7,709.9 1422.1,712.3 1422.6,714.8 1423.0,717.2 1423.5,719.7 1424.0,722.2 1424.4,724.6 1424.9,727.1 1425.4,729.5 1425.9,732.0 1426.4,734.4 1426.8,736.9 1427.3,739.3 1427.8,741.8 1428.3,744.2 1428.7,746.7 1429.2,749.2 1429.6,751.6 1430.1,754.1 1430.5,756.5 1431.0,759.0 1431.4,761.5 1431.8,763.9 1432.2,766.4 1432.6,768.8 1433.0,771.3 1433.4,773.8 1433.9,776.2 1434.4,778.7 1435.3,781.0 1436.8,783.0 1439.1,782.9 1441.1,781.5 1442.7,779.6 1444.2,777.5 1445.4,775.4 1446.6,773.2 1447.7,770.9 1448.7,768.6 1449.6,766.3 1450.4,763.9 1451.1,761.5 1451.7,759.1 1452.1,756.6 1452.6,754.2 1452.9,751.7 1453.1,749.2 1453.3,746.7 1453.4,744.2 1453.5,741.7 1453.6,739.2 1453.6,736.7 1453.6,734.2 1453.6,731.7 1453.7,729.2 1453.8,726.7 1453.9,724.2 1454.0,721.7 1454.1,719.2 1454.3,716.7 1454.5,714.2 1454.7,711.7 1455.0,709.2 1455.2,706.8 1455.5,704.3 1455.7,701.8 1456.0,699.3 1456.3,696.8 1456.6,694.3 1456.9,691.9 1457.3,689.4 1457.6,686.9 1457.9,684.4 1458.2,682.0 1458.6,679.5 1458.9,677.0 1459.3,674.5 1459.6,672.0 1459.9,669.6 1460.3,667.1 1460.6,664.6 1460.9,662.1 1461.2,659.7 1461.5,657.2 1461.8,654.7 1462.1,652.2 1462.4,649.7 1462.7,647.2 1463.0,644.8 1463.3,642.3 1463.6,639.8 1463.9,637.3 1464.2,634.8 1464.4,632.3 1464.7,629.9 1465.0,627.4 1465.2,624.9 1465.5,622.4 1465.7,619.9 1466.0,617.4 1466.3,614.9 1466.5,612.4 1466.7,610.0 1467.0,607.5 1467.2,605.0 1467.5,602.5 1467.7,600.0 1467.9,597.5 1468.2,595.0 1468.4,592.5 1468.6,590.1 1468.9,587.6 1469.1,585.1 1469.3,582.6 1469.5,580.1 1469.8,577.6 1470.0,575.1 1470.2,572.6 1470.4,570.1 1470.6,567.6 1470.8,565.2 1471.1,562.7 1471.3,560.2 1471.5,557.7 1471.7,555.2 1471.9,552.7 1472.1,550.2 1472.3,547.7 1472.5,545.2 1472.8,542.7 1473.0,540.2 1473.2,537.8 1473.4,535.3 1473.6,532.8 1473.8,530.3 1474.0,527.8 1474.3,525.3 1474.5,522.8 1474.7,520.3 1474.9,517.8 1475.1,515.3 1475.3,512.8 1475.6,510.4 1475.8,507.9 1476.0,505.4 1476.2,502.9 1476.5,500.4 1476.7,497.9 1476.9,495.4 1477.2,492.9 1477.4,490.4 1477.6,488.0 1477.9,485.5 1478.1,483.0 1478.4,480.5 1478.6,478.0 1478.8,475.5 1479.1,473.0 1479.4,470.5 1479.6,468.1 1479.9,465.6 1480.1,463.1 1480.4,460.6 1480.7,458.1 1481.0,455.6 1481.2,453.1 1481.5,450.7 1481.8,448.2 1482.1,445.7 1482.4,443.2 1482.7,440.7 1483.0,438.2 1483.3,435.8 1483.6,433.3 1483.9,430.8 1484.2,428.3 1484.5,425.8 1484.9,423.4 1485.2,420.9 1485.5,418.4 1485.9,415.9 1486.2,413.5 1486.6,411.0 1486.9,408.5 1487.3,406.0 1487.7,403.6 1488.1,401.1 1488.4,398.6 1488.8,396.2 1489.2,393.7 1489.6,391.2 1490.0,388.8 1490.4,386.3 1490.8,383.8 1491.3,381.4 1491.7,378.9 1492.1,376.4 1492.6,374.0 1493.0,371.5 1493.5,369.1 1493.9,366.6 1494.4,364.1 1494.9,361.7 1495.4,359.2 1495.9,356.8 1496.4,354.3 1496.9,351.9 1497.4,349.4 1497.9,347.0 1498.4,344.6 1499.0,342.1 1499.5,339.7 1500.1,337.2 1500.6,334.8 1501.2,332.4 1501.8,329.9 1502.4,327.5 1503.0,325.1 1503.6,322.7 1504.2,320.2 1504.8,317.8 1505.4,315.4 1506.1,313.0 1506.7,310.6 1507.4,308.1 1508.0,305.7 1508.7,303.3 1509.4,300.9 1510.1,298.5 1510.8,296.1 1511.5,293.7 1512.2,291.3 1512.9,288.9 1513.7,286.6 1514.4,284.2 1515.2,281.8 1516.0,279.4 1516.7,277.0 1517.5,274.7 1518.3,272.3 1519.1,269.9 1519.9,267.6 1520.8,265.2 1521.6,262.9 1522.5,260.5 1523.4,258.2 1524.4,255.9 1525.4,253.6 1526.4,251.3 1527.5,249.1 1528.8,246.9 1530.1,244.8 1531.4,242.7 1533.0,240.7 1534.6,238.8 1536.3,237.0 1538.1,235.3 1540.1,233.7 1542.1,232.3 1544.3,231.0 1546.5,229.9 1548.8,228.9 1551.2,228.1 1553.6,227.4 1556.0,226.9 1558.5,226.5 1561.0,226.3 1563.5,226.3 1566.0,226.5 1568.4,226.8 1570.9,227.4 1573.2,228.3 1575.5,229.4 1577.7,230.5 1580.0,231.5 1582.3,232.5 1584.7,233.2 1587.1,233.7 1589.5,234.3 1591.9,235.3 1594.0,236.5 1596.0,238.1 1597.8,239.8 1599.4,241.7 1600.8,243.8 1602.1,245.9 1603.3,248.1 1604.5,250.3 1605.5,252.6 1606.5,254.9 1607.4,257.2 1608.4,259.5 1609.3,261.9 1610.2,264.2 1611.1,266.5 1612.0,268.8 1613.0,271.1 1614.0,273.4 1615.0,275.7 1616.1,277.9 1617.4,280.1 1618.7,282.2 1620.1,284.3 1621.8,286.2 1623.6,287.9 1625.7,289.3 1627.9,290.4 1630.3,291.1 1632.7,291.5 1635.2,291.6 1637.7,291.2 1640.1,290.5 1642.4,289.4 1644.4,288.0 1646.3,286.4 1648.0,284.5 1649.5,282.5 1650.8,280.4 1652.0,278.2 1653.1,276.0 1654.2,273.7 1655.1,271.4 1656.0,269.1 1656.9,266.7 1657.7,264.4 1658.6,262.0 1659.4,259.6 1660.2,257.3 1661.0,254.9 1661.9,252.6 1662.7,250.2 1663.7,247.9 1664.6,245.6 1665.7,243.3 1666.8,241.1 1668.0,238.9 1669.2,236.7 1670.6,234.6 1672.0,232.6 1673.6,230.6 1675.2,228.7 1676.9,226.9 1678.7,225.2 1680.6,223.5 1682.6,222.0 1684.6,220.6 1686.7,219.2 1688.9,218.0 1691.1,216.8 1693.4,215.8 1695.7,214.8 1698.0,214.0 1700.4,213.2 1702.8,212.4 1705.2,211.8 1707.7,211.2 1710.1,210.7 1712.6,210.3 1715.0,209.9 1717.5,209.6 1720.0,209.4 1722.5,209.2 1725.0,209.1 1727.5,209.1 1730.0,209.2 1732.5,209.3 1735.0,209.5 1737.5,209.8 1739.9,210.2 1742.4,210.6 1744.8,211.2 1747.3,211.8 1749.6,212.6 1752.0,213.4 1754.3,214.4 1756.6,215.4 1758.8,216.6 1760.9,217.9 1763.0,219.3 1765.0,220.7 1767.0,222.3 1768.9,223.9 1770.7,225.6 1772.5,227.4 1774.1,229.3 1775.8,231.2 1777.3,233.1 1778.8,235.1 1780.2,237.2 1781.6,239.3 1783.0,241.4 1784.2,243.5 1785.5,245.7 1786.7,247.9 1787.8,250.1 1788.9,252.4 1790.0,254.6 1791.0,256.9 1792.0,259.2 1793.0,261.5 1794.0,263.8 1794.9,266.1 1795.8,268.4 1796.7,270.8 1797.6,273.1 1798.5,275.4 1799.3,277.8 1800.2,280.1 1801.0,282.5 1801.8,284.9 1802.6,287.2 1803.4,289.6 1804.2,292.0 1805.0,294.3 1805.8,296.7 1806.5,299.1 1807.3,301.5 1808.0,303.9 1808.8,306.3 1809.5,308.7 1810.2,311.0 1810.9,313.4 1811.6,315.8 1812.3,318.2 1813.0,320.7 1813.7,323.1 1814.3,325.5 1815.0,327.9 1815.6,330.3 1816.3,332.7 1816.9,335.1 1817.5,337.6 1818.2,340.0 1818.8,342.4 1819.4,344.8 1820.0,347.2 1820.6,349.7 1821.2,352.1 1821.7,354.5 1822.3,357.0 1822.9,359.4 1823.4,361.8 1824.0,364.3 1824.6,366.7 1825.1,369.2 1825.7,371.6 1826.2,374.0 1826.7,376.5 1827.3,378.9 1827.8,381.4 1828.3,383.8 1828.8,386.2 1829.4,388.7 1829.9,391.1 1830.4,393.6 1830.9,396.0 1831.4,398.5 1831.9,400.9 1832.4,403.4 1832.9,405.8 1833.4,408.3 1833.9,410.7 1834.4,413.2 1834.9,415.6 1835.4,418.1 1835.9,420.5 1836.4,423.0 1836.9,425.4 1837.4,427.9 1837.9,430.3 1838.4,432.8 1838.9,435.2 1839.4,437.7 1839.9,440.1 1840.4,442.6 1841.0,445.0 1841.5,447.5 1842.0,449.9 1842.5,452.4 1843.0,454.8 1843.5,457.2 1844.0,459.7 1844.6,462.1 1845.1,464.6 1845.6,467.0 1846.1,469.5 1846.7,471.9 1847.2,474.3 1847.8,476.8 1848.3,479.2 1848.9,481.7 1849.4,484.1 1850.0,486.5 1850.6,489.0 1851.2,491.4 1851.7,493.8 1852.3,496.3 1852.9,498.7 1853.5,501.1 1854.1,503.5 1854.7,506.0 1855.3,508.4 1856.0,510.8 1856.6,513.2 1857.2,515.6 1857.9,518.1 1858.5,520.5 1859.2,522.9 1859.8,525.3 1860.5,527.7 1861.2,530.1 1861.9,532.5 1862.5,534.9 1863.2,537.3 1863.9,539.7 1864.6,542.1 1865.3,544.5 1866.0,546.9 1866.6,549.3 1867.3,551.7 1868.0,554.1 1868.7,556.5 1869.4,558.9 1870.1,561.3 1870.8,563.7 1871.5,566.1 1872.2,568.5 1872.9,570.9 1873.7,573.3 1874.4,575.7 1875.1,578.1 1875.9,580.5 1876.6,582.9 1877.4,585.3 1878.3,587.6 1879.2,589.9 1880.1,592.3 1881.1,594.6 1882.1,596.9 1883.1,599.1 1884.3,601.3 1885.5,603.5 1887.0,605.5 1889.0,607.1 1891.4,607.2 1893.4,605.8 1895.0,603.9 1896.3,601.8 1897.4,599.5 1898.4,597.3 1899.4,594.9 1900.3,592.6 1901.2,590.3 1902.0,587.9 1902.8,585.5 1903.6,583.2 1904.4,580.8 1905.1,578.4 1905.9,576.0 1906.6,573.6 1907.3,571.2 1908.0,568.8 1908.6,566.4 1909.3,564.0 1909.9,561.6 1910.5,559.1 1911.1,556.7 1911.6,554.3 1912.2,551.8 1912.7,549.4 1913.2,547.0 1913.7,544.5 1914.2,542.1 1914.7,539.6 1915.2,537.1 1915.6,534.7 1916.1,532.2 1916.6,529.8 1917.0,527.3 1917.5,524.9 1917.9,522.4 1918.4,519.9 1918.8,517.5 1919.3,515.0 1919.8,512.6 1920.2,510.1 1920.7,507.7 1921.2,505.2 1921.7,502.8 1922.2,500.3 1922.7,497.9 1923.2,495.4 1923.7,493.0 1924.2,490.5 1924.7,488.1 1925.2,485.6 1925.7,483.2 1926.2,480.7 1926.8,478.3 1927.3,475.8 1927.8,473.4 1928.3,470.9 1928.9,468.5 1929.4,466.1 1929.9,463.6 1930.4,461.2 1931.0,458.7 1931.5,456.3 1932.0,453.8 1932.6,451.4 1933.1,449.0 1933.6,446.5 1934.2,444.1 1934.7,441.6 1935.2,439.2 1935.8,436.8 1936.4,434.3 1937.0,431.9 1937.8,429.5 1938.6,427.2 1939.5,424.8 1940.5,422.5 1941.6,420.3 1942.7,418.1 1943.9,415.9 1945.3,413.8 1946.8,411.8 1948.6,410.0 1950.7,408.9 1953.2,408.9 1955.3,410.1 1957.2,411.9 1958.7,413.8 1960.1,415.9 1961.4,418.0 1962.7,420.2 1963.9,422.3 1965.1,424.5 1966.2,426.8 1967.3,429.0 1968.4,431.3 1969.4,433.6 1970.4,435.8 1971.4,438.2 1972.3,440.5 1973.2,442.8 1974.1,445.2 1974.9,447.5 1975.7,449.9 1976.4,452.3 1977.1,454.7 1977.8,457.1 1978.5,459.5 1979.1,461.9 1979.7,464.3 1980.3,466.8 1980.9,469.2 1981.4,471.6 1982.0,474.1 1982.5,476.5 1983.0,479.0 1983.4,481.4 1983.9,483.9 1984.3,486.4 1984.7,488.8 1985.1,491.3 1985.5,493.8 1985.9,496.2 1986.3,498.7 1986.6,501.2 1987.0,503.6 1987.3,506.1 1987.7,508.6 1988.0,511.1 1988.3,513.6 1988.7,516.0 1989.0,518.5 1989.3,521.0 1989.6,523.5 1990.0,525.9 1990.3,528.4 1990.6,530.9 1990.9,533.4 1991.2,535.9 1991.5,538.3 1991.8,540.8 1992.1,543.3 1992.4,545.8 1992.7,548.3 1993.0,550.8 1993.3,553.2 1993.6,555.7 1993.9,558.2 1994.2,560.7 1994.5,563.2 1994.8,565.7 1995.0,568.1 1995.3,570.6 1995.6,573.1 1995.9,575.6 1996.2,578.1 1996.4,580.6 1996.7,583.0 1997.0,585.5 1997.2,588.0 1997.5,590.5 1997.8,593.0 1998.1,595.5 1998.3,598.0 1998.6,600.4 1998.8,602.9 1999.1,605.4 1999.4,607.9 1999.6,610.4 1999.9,612.9 2000.1,615.4 2000.4,617.8 2000.7,620.3 2000.9,622.8 2001.2,625.3 2001.4,627.8 2001.7,630.3 2001.9,632.8 2002.2,635.3 2002.4,637.7 2002.7,640.2 2002.9,642.7 2003.2,645.2 2003.4,647.7 2003.6,650.2 2003.9,652.7 2004.1,655.2 2004.4,657.6 2004.6,660.1 2004.8,662.6 2005.1,665.1 2005.3,667.6 2005.5,670.1 2005.8,672.6 2006.0,675.1 2006.2,677.6 2006.5,680.0 2006.7,682.5 2006.9,685.0 2007.2,687.5 2007.4,690.0 2007.6,692.5 2007.8,695.0 2008.1,697.5 2008.3,700.0 2008.5,702.5 2008.7,704.9 2009.0,707.4 2009.2,709.9 2009.4,712.4 2009.6,714.9 2009.8,717.4 2010.1,719.9 2010.3,722.4 2010.5,724.9 2010.7,727.4 2010.9,729.8 2011.1,732.3 2011.3,734.8 2011.6,737.3 2011.8,739.8 2012.0,742.3 2012.2,744.8 2012.4,747.3 2012.6,749.8 2012.8,752.3 2013.0,754.8 2013.2,757.2 2013.4,759.7 2013.7,762.2 2013.9,764.7 2014.1,767.2 2014.3,769.7 2014.5,772.2 2014.7,774.7 2014.9,777.2 2015.1,779.7 2015.3,782.2 2015.5,784.7 2015.7,787.1 2015.9,789.6 2016.1,792.1 2016.3,794.6 2016.5,797.1 2016.7,799.6 2016.9,802.1 2017.1,804.6 2017.3,807.1 2017.5,809.6 2017.7,812.1 2017.8,814.6 2018.0,817.0 2018.2,819.5 2018.4,822.0 2018.6,824.5 2018.8,827.0 2019.0,829.5 2019.2,832.0 2019.4,834.5 2019.6,837.0 2019.8,839.5 2020.0,842.0 2020.2,844.5 2020.3,847.0 2020.5,849.4 2020.7,851.9 2020.9,854.4 2021.1,856.9 2021.3,859.4 2021.5,861.9 2021.7,864.4 2021.9,866.9 2022.0,869.4 2022.2,871.9 2022.4,874.4 2022.6,876.9 2022.8,879.4 2023.0,881.9 2023.2,884.3 2023.3,886.8 2023.5,889.3 2023.7,891.8 2023.9,894.3 2024.1,896.8 2024.3,899.3 2024.5,901.8 2024.6,904.3 2024.8,906.8 2025.0,909.3 2025.2,911.8 2025.4,914.3 2025.6,916.8 2025.8,919.2 2025.9,921.7 2026.1,924.2 2026.3,926.7 2026.5,929.2 2026.7,931.7 2026.9,934.2 2027.0,936.7 2027.2,939.2 2027.4,941.7 2027.6,944.2 2027.8,946.7 2028.0,949.2 2028.1,951.7 2028.3,954.2 2028.5,956.6 2028.7,959.1 2028.9,961.6 2029.1,964.1 2029.2,966.6 2029.4,969.1 2029.6,971.6 2029.8,974.1 2030.0,976.6 2030.2,979.1 2030.4,981.6 2030.5,984.1 2030.7,986.6 2030.9,989.1 2031.1,991.5 2031.3,994.0 2031.5,996.5 2031.7,999.0 2031.8,1001.5 2032.0,1004.0 2032.2,1006.5 2032.4,1009.0 2032.6,1011.5 2032.8,1014.0 2033.0,1016.5 2033.2,1019.0 2033.3,1021.5 2033.5,1024.0 2033.7,1026.4 2033.9,1028.9 2034.1,1031.4 2034.3,1033.9 2034.5,1036.4 2034.7,1038.9 2034.9,1041.4 2035.1,1043.9 2035.2,1046.4 2035.4,1048.9 2035.6,1051.4 2035.8,1053.9 2036.0,1056.4 2036.2,1058.8 2036.4,1061.3 2036.6,1063.8 2036.8,1066.3 2037.0,1068.8 2037.2,1071.3 2037.4,1073.8 2037.6,1076.3 2037.8,1078.8 2038.0,1081.3 2038.2,1083.8 2038.4,1086.3 2038.6,1088.8 2038.8,1091.2 2039.0,1093.7 2039.2,1096.2 2039.4,1098.7 2039.6,1101.2 2039.8,1103.7 2040.0,1106.2 2040.2,1108.7 2040.4,1111.2 2040.6,1113.7 2040.8,1116.2 2041.0,1118.7 2041.2,1121.1 2041.4,1123.6 2041.6,1126.1 2041.8,1128.6 2042.0,1131.1 2042.2,1133.6 2042.5,1136.1 2042.7,1138.6 2042.9,1141.1 2043.1,1143.6 2043.3,1146.1 2043.5,1148.5 2043.7,1151.0 2043.9,1153.5 2044.2,1156.0 2044.4,1158.5 2044.6,1161.0 2044.8,1163.5 2045.0,1166.0 2045.3,1168.5 2045.5,1171.0 2045.7,1173.4 2045.9,1175.9 2046.1,1178.4 2046.4,1180.9 2046.6,1183.4 2046.8,1185.9 2047.0,1188.4 2047.3,1190.9 2047.5,1193.4 2047.7,1195.9 2048.0,1198.3 2048.2,1200.8 2048.4,1203.3 2048.6,1205.8 2048.9,1208.3 2049.1,1210.8 2049.4,1213.3 2049.6,1215.8 2049.8,1218.3 2050.1,1220.7 2050.3,1223.2 2050.5,1225.7 2050.8,1228.2 2051.0,1230.7 2051.3,1233.2 2051.5,1235.7 2051.8,1238.2 2052.0,1240.6 2052.3,1243.1 2052.5,1245.6 2052.8,1248.1 2053.0,1250.6 2053.3,1253.1 2053.5,1255.6 2053.8,1258.1 2054.0,1260.5 2054.3,1263.0 2054.5,1265.5 2054.8,1268.0 2055.0,1270.5 2055.3,1273.0 2055.6,1275.5 2055.8,1277.9 2056.1,1280.4 2056.4,1282.9 2056.6,1285.4 2056.9,1287.9 2057.2,1290.4 2057.4,1292.9 2057.7,1295.3 2058.0,1297.8 2058.2,1300.3 2058.5,1302.8 2058.8,1305.3 2059.1,1307.8 2059.4,1310.3 2059.6,1312.7 2059.9,1315.2 2060.2,1317.7 2060.5,1320.2 2060.8,1322.7 2061.1,1325.2 2061.3,1327.6 2061.6,1330.1 2061.9,1332.6 2062.2,1335.1 2062.5,1337.6 2062.8,1340.0 2063.1,1342.5 2063.4,1345.0 2063.8,1347.5 2064.1,1350.0 2064.4,1352.4 2064.7,1354.9 2065.0,1357.4 2065.4,1359.9 2065.7,1362.4 2066.0,1364.8 2066.4,1367.3 2066.7,1369.8 2067.1,1372.3 2067.4,1374.7 2067.8,1377.2 2068.2,1379.7 2068.6,1382.2 2068.9,1384.6 2069.3,1387.1 2069.7,1389.6 2070.1,1392.0 2070.5,1394.5 2070.9,1397.0 2071.4,1399.4 2071.8,1401.9 2072.2,1404.4 2072.7,1406.8 2073.2,1409.3 2073.7,1411.7 2074.3,1414.1 2074.9,1416.5 2075.7,1418.9 2076.6,1421.3 2077.5,1423.6 2078.6,1425.8 2079.8,1428.0 2081.1,1430.1 2082.6,1432.2 2084.1,1434.2 2085.8,1436.0 2087.5,1437.8 2089.5,1439.4 2091.6,1440.7 2094.0,1441.3 2096.2,1440.3 2097.9,1438.4 2099.0,1436.2 2100.0,1433.9 2100.9,1431.6 2101.7,1429.2 2102.6,1426.9 2103.4,1424.5 2104.3,1422.2 2105.3,1419.9 2106.5,1417.7 2107.8,1415.6 2109.2,1413.5 2110.7,1411.5 2112.4,1409.7 2114.1,1407.9 2115.9,1406.1 2117.8,1404.5 2119.7,1402.8 2121.6,1401.3 2123.6,1399.7 2125.5,1398.1 2127.5,1396.5 2129.4,1394.9 2131.2,1393.2 2133.0,1391.5 2134.7,1389.7 2136.4,1387.8 2137.9,1385.8 2139.4,1383.8 2140.8,1381.8 2142.1,1379.6 2143.3,1377.5 2144.5,1375.2 2145.6,1373.0 2146.6,1370.7 2147.6,1368.4 2148.5,1366.1 2149.3,1363.7 2150.0,1361.3 2150.8,1358.9 2151.4,1356.5 2152.0,1354.1 2152.6,1351.7 2153.1,1349.2 2153.6,1346.8 2154.1,1344.3 2154.5,1341.8 2154.9,1339.4 2155.3,1336.9 2155.6,1334.4 2156.0,1332.0 2156.3,1329.5 2156.6,1327.0 2156.9,1324.5 2157.2,1322.0 2157.5,1319.5 2157.7,1317.1 2158.0,1314.6 2158.3,1312.1 2158.6,1309.6 2158.8,1307.1 2159.1,1304.6 2159.4,1302.1 2159.7,1299.7 2159.9,1297.2 2160.2,1294.7 2160.5,1292.2 2160.8,1289.7 2161.0,1287.2 2161.3,1284.8 2161.6,1282.3 2161.8,1279.8 2162.1,1277.3 2162.4,1274.8 2162.7,1272.3 2162.9,1269.8 2163.2,1267.4 2163.5,1264.9 2163.7,1262.4 2164.0,1259.9 2164.2,1257.4 2164.5,1254.9 2164.8,1252.4 2165.0,1250.0 2165.3,1247.5 2165.6,1245.0 2165.8,1242.5 2166.1,1240.0 2166.3,1237.5 2166.6,1235.0 2166.8,1232.6 2167.1,1230.1 2167.4,1227.6 2167.6,1225.1 2167.9,1222.6 2168.1,1220.1 2168.4,1217.6 2168.6,1215.1 2168.8,1212.7 2169.1,1210.2 2169.3,1207.7 2169.6,1205.2 2169.8,1202.7 2170.1,1200.2 2170.3,1197.7 2170.5,1195.2 2170.8,1192.7 2171.0,1190.3 2171.2,1187.8 2171.5,1185.3 2171.7,1182.8 2171.9,1180.3 2172.2,1177.8 2172.4,1175.3 2172.6,1172.8 2172.8,1170.3 2173.1,1167.9 2173.3,1165.4 2173.5,1162.9 2173.7,1160.4 2173.9,1157.9 2174.2,1155.4 2174.4,1152.9 2174.6,1150.4 2174.8,1147.9 2175.0,1145.4 2175.2,1143.0 2175.4,1140.5 2175.7,1138.0 2175.9,1135.5 2176.1,1133.0 2176.3,1130.5 2176.5,1128.0 2176.7,1125.5 2176.9,1123.0 2177.1,1120.5 2177.3,1118.0 2177.5,1115.6 2177.7,1113.1 2177.9,1110.6 2178.1,1108.1 2178.3,1105.6 2178.5,1103.1 2178.7,1100.6 2178.9,1098.1 2179.1,1095.6 2179.3,1093.1 2179.5,1090.6 2179.7,1088.1 2179.9,1085.7 2180.1,1083.2 2180.3,1080.7 2180.5,1078.2 2180.7,1075.7 2180.9,1073.2 2181.1,1070.7 2181.3,1068.2 2181.5,1065.7 2181.7,1063.2 2181.9,1060.7 2182.1,1058.2 2182.3,1055.7 2182.5,1053.3 2182.7,1050.8 2182.9,1048.3 2183.1,1045.8 2183.3,1043.3 2183.5,1040.8 2183.7,1038.3 2183.9,1035.8 2184.1,1033.3 2184.3,1030.8 2184.5,1028.3 2184.7,1025.8 2184.9,1023.4 2185.1,1020.9 2185.3,1018.4 2185.5,1015.9 2185.7,1013.4 2185.9,1010.9 2186.1,1008.4 2186.3,1005.9 2186.5,1003.4 2186.7,1000.9 2186.9,998.4 2187.1,995.9 2187.3,993.4 2187.5,991.0 2187.7,988.5 2187.9,986.0 2188.1,983.5 2188.3,981.0 2188.5,978.5 2188.7,976.0 2188.9,973.5 2189.1,971.0 2189.3,968.5 2189.5,966.0 2189.7,963.6 2189.9,961.1 2190.1,958.6 2190.3,956.1 2190.5,953.6 2190.8,951.1 2191.0,948.6 2191.2,946.1 2191.4,943.6 2191.6,941.1 2191.8,938.6 2192.0,936.2 2192.3,933.7 2192.5,931.2 2192.7,928.7 2192.9,926.2 2193.1,923.7 2193.4,921.2 2193.6,918.7 2193.8,916.2 2194.1,913.7 2194.3,911.3 2194.5,908.8 2194.8,906.3 2195.0,903.8 2195.2,901.3 2195.5,898.8 2195.7,896.3 2196.0,893.8 2196.2,891.4 2196.5,888.9 2196.8,886.4 2197.0,883.9 2197.3,881.4 2197.6,878.9 2197.8,876.4 2198.1,874.0 2198.4,871.5 2198.7,869.0 2199.0,866.5 2199.3,864.0 2199.6,861.5 2199.9,859.1 2200.2,856.6 2200.5,854.1 2200.8,851.6 2201.1,849.1 2201.4,846.7 2201.8,844.2 2202.1,841.7 2202.4,839.2 2202.8,836.8 2203.1,834.3 2203.5,831.8 2203.9,829.3 2204.2,826.9 2204.6,824.4 2205.0,821.9 2205.4,819.4 2205.8,817.0 2206.2,814.5 2206.7,812.1 2207.2,809.6 2207.8,807.2 2208.4,804.8 2209.2,802.4 2210.0,800.0 2210.9,797.7 2211.9,795.4 2213.0,793.1 2214.2,790.9 2215.4,788.8 2216.8,786.7 2218.4,784.7 2220.0,782.8 2221.7,781.1 2223.7,779.5 2225.8,778.2 2228.2,777.6 2230.7,777.8 2232.9,778.8 2234.9,780.4 2236.6,782.2 2238.1,784.2 2239.5,786.3 2240.8,788.4 2242.0,790.6 2243.1,792.9 2244.1,795.1 2245.1,797.4 2246.1,799.7 2247.0,802.1 2247.9,804.4 2248.8,806.7 2249.7,809.1 2250.5,811.4 2251.3,813.8 2252.1,816.2 2252.8,818.6 2253.6,821.0 2254.2,823.4 2254.9,825.8 2255.5,828.2 2256.1,830.6 2256.7,833.0 2257.3,835.5 2257.8,837.9 2258.3,840.4 2258.8,842.8 2259.3,845.3 2259.7,847.7 2260.2,850.2 2260.6,852.7 2261.0,855.1 2261.3,857.6 2261.7,860.1 2262.1,862.5 2262.4,865.0 2262.7,867.5 2263.1,870.0 2263.4,872.5 2263.7,874.9 2264.0,877.4 2264.3,879.9 2264.6,882.4 2264.9,884.9 2265.2,887.3 2265.5,889.8 2265.8,892.3 2266.1,894.8 2266.3,897.3 2266.6,899.8 2266.9,902.3 2267.1,904.7 2267.4,907.2 2267.6,909.7 2267.9,912.2 2268.1,914.7 2268.3,917.2 2268.6,919.7 2268.8,922.2 2269.0,924.6 2269.3,927.1 2269.5,929.6 2269.7,932.1 2269.9,934.6 2270.1,937.1 2270.3,939.6 2270.5,942.1 2270.7,944.6 2270.9,947.1 2271.1,949.6 2271.3,952.0 2271.5,954.5 2271.7,957.0 2271.9,959.5 2272.1,962.0 2272.3,964.5 2272.4,967.0 2272.6,969.5 2272.8,972.0 2273.0,974.5 2273.1,977.0 2273.3,979.5 2273.5,982.0 2273.7,984.5 2273.8,987.0 2274.0,989.5 2274.2,991.9 2274.3,994.4 2274.5,996.9 2274.6,999.4 2274.8,1001.9 2275.0,1004.4 2275.1,1006.9 2275.3,1009.4 2275.4,1011.9 2275.6,1014.4 2275.7,1016.9 2275.9,1019.4 2276.0,1021.9 2276.2,1024.4 2276.3,1026.9 2276.5,1029.4 2276.6,1031.9 2276.8,1034.4 2276.9,1036.9 2277.0,1039.4 2277.2,1041.8 2277.3,1044.3 2277.5,1046.8 2277.6,1049.3 2277.7,1051.8 2277.9,1054.3 2278.0,1056.8 2278.1,1059.3 2278.3,1061.8 2278.4,1064.3 2278.5,1066.8 2278.7,1069.3 2278.8,1071.8 2278.9,1074.3 2279.0,1076.8 2279.2,1079.3 2279.3,1081.8 2279.4,1084.3 2279.6,1086.8 2279.7,1089.3 2279.8,1091.8 2279.9,1094.3 2280.1,1096.8 2280.2,1099.3 2280.3,1101.8 2280.4,1104.3 2280.6,1106.8 2280.7,1109.3 2280.8,1111.8 2280.9,1114.2 2281.1,1116.7 2281.2,1119.2 2281.3,1121.7 2281.4,1124.2 2281.6,1126.7 2281.7,1129.2 2281.8,1131.7 2281.9,1134.2 2282.1,1136.7 2282.2,1139.2 2282.3,1141.7 2282.5,1144.2 2282.6,1146.7 2282.7,1149.2 2282.9,1151.7 2283.0,1154.2 2283.2,1156.7 2283.3,1159.2 2283.5,1161.7 2283.6,1164.2 2283.8,1166.7 2283.9,1169.2 2284.1,1171.7 2284.3,1174.1 2284.4,1176.6 2284.6,1179.1 2284.8,1181.6 2285.0,1184.1 2285.2,1186.6 2285.4,1189.1 2285.6,1191.6 2285.8,1194.1 2286.0,1196.6 2286.2,1199.1 2286.4,1201.6 2286.6,1204.1 2286.9,1206.5 2287.1,1209.0 2287.3,1211.5 2287.6,1214.0 2287.8,1216.5 2288.1,1219.0 2288.4,1221.5 2288.6,1224.0 2288.9,1226.4 2289.1,1228.9 2289.4,1231.4 2289.7,1233.9 2289.9,1236.4 2290.2,1238.9 2290.5,1241.4 2290.7,1243.8 2291.0,1246.3 2291.3,1248.8 2291.5,1251.3 2291.8,1253.8 2292.0,1256.3 2292.3,1258.8 2292.5,1261.2 2292.8,1263.7 2293.0,1266.2 2293.2,1268.7 2293.5,1271.2 2293.7,1273.7 2293.9,1276.2 2294.1,1278.7 2294.3,1281.2 2294.6,1283.7 2294.8,1286.1 2295.0,1288.6 2295.2,1291.1 2295.4,1293.6 2295.6,1296.1 2295.8,1298.6 2296.1,1301.1 2296.4,1303.6 2296.8,1306.0 2297.4,1308.5 2298.3,1310.8 2300.1,1312.2 2302.2,1310.9 2303.7,1308.9 2304.9,1306.7 2305.8,1304.4 2306.4,1302.0 2307.0,1299.6 2307.4,1297.1 2307.7,1294.6 2308.0,1292.1 2308.2,1289.6 2308.3,1287.1 2308.5,1284.6 2308.6,1282.1 2308.7,1279.6 2308.9,1277.2 2309.0,1274.7 2309.1,1272.2 2309.3,1269.7 2309.5,1267.2 2309.6,1264.7 2309.8,1262.2 2310.0,1259.7 2310.2,1257.2 2310.4,1254.7 2310.6,1252.2 2310.8,1249.7 2311.0,1247.2 2311.2,1244.7 2311.4,1242.2 2311.6,1239.8 2311.9,1237.3 2312.1,1234.8 2312.3,1232.3 2312.5,1229.8 2312.7,1227.3 2313.0,1224.8 2313.2,1222.3 2313.4,1219.8 2313.6,1217.3 2313.8,1214.9 2314.0,1212.4 2314.2,1209.9 2314.4,1207.4 2314.6,1204.9 2314.8,1202.4 2315.0,1199.9 2315.2,1197.4 2315.4,1194.9 2315.6,1192.4 2315.8,1189.9 2316.0,1187.4 2316.2,1185.0 2316.4,1182.5 2316.6,1180.0 2316.8,1177.5 2317.0,1175.0 2317.2,1172.5 2317.4,1170.0 2317.6,1167.5 2317.8,1165.0 2318.0,1162.5 2318.1,1160.0 2318.3,1157.5 2318.5,1155.0 2318.7,1152.6 2318.9,1150.1 2319.1,1147.6 2319.2,1145.1 2319.4,1142.6 2319.6,1140.1 2319.8,1137.6 2319.9,1135.1 2320.1,1132.6 2320.3,1130.1 2320.5,1127.6 2320.6,1125.1 2320.8,1122.6 2321.0,1120.1 2321.2,1117.6 2321.3,1115.1 2321.5,1112.7 2321.7,1110.2 2321.8,1107.7 2322.0,1105.2 2322.2,1102.7 2322.3,1100.2 2322.5,1097.7 2322.7,1095.2 2322.8,1092.7 2323.0,1090.2 2323.2,1087.7 2323.3,1085.2 2323.5,1082.7 2323.7,1080.2 2323.8,1077.7 2324.0,1075.2 2324.1,1072.7 2324.3,1070.2 2324.5,1067.8 2324.6,1065.3 2324.8,1062.8 2324.9,1060.3 2325.1,1057.8 2325.2,1055.3 2325.4,1052.8 2325.6,1050.3 2325.7,1047.8 2325.9,1045.3 2326.0,1042.8 2326.2,1040.3 2326.3,1037.8 2326.5,1035.3 2326.6,1032.8 2326.8,1030.3 2326.9,1027.8 2327.1,1025.3 2327.2,1022.8 2327.4,1020.3 2327.5,1017.9 2327.7,1015.4 2327.8,1012.9 2328.0,1010.4 2328.1,1007.9 2328.3,1005.4 2328.4,1002.9 2328.6,1000.4 2328.7,997.9 2328.9,995.4 2329.0,992.9 2329.2,990.4 2329.3,987.9 2329.5,985.4 2329.6,982.9 2329.7,980.4 2329.9,977.9 2330.0,975.4 2330.2,972.9 2330.3,970.4 2330.5,967.9 2330.6,965.4 2330.8,963.0 2330.9,960.5 2331.0,958.0 2331.2,955.5 2331.3,953.0 2331.5,950.5 2331.6,948.0 2331.7,945.5 2331.9,943.0 2332.0,940.5 2332.2,938.0 2332.3,935.5 2332.4,933.0 2332.6,930.5 2332.7,928.0 2332.9,925.5 2333.0,923.0 2333.1,920.5 2333.3,918.0 2333.4,915.5 2333.6,913.0 2333.7,910.5 2333.8,908.0 2334.0,905.5 2334.1,903.1 2334.3,900.6 2334.4,898.1 2334.5,895.6 2334.7,893.1 2334.8,890.6 2334.9,888.1 2335.1,885.6 2335.2,883.1 2335.4,880.6 2335.5,878.1 2335.6,875.6 2335.8,873.1 2335.9,870.6 2336.0,868.1 2336.2,865.6 2336.3,863.1 2336.5,860.6 2336.6,858.1 2336.7,855.6 2336.9,853.1 2337.0,850.6 2337.1,848.1 2337.3,845.6 2337.4,843.1 2337.6,840.6 2337.7,838.2 2337.8,835.7 2338.0,833.2 2338.1,830.7 2338.2,828.2 2338.4,825.7 2338.5,823.2 2338.7,820.7 2338.8,818.2 2338.9,815.7 2339.1,813.2 2339.2,810.7 2339.4,808.2 2339.5,805.7 2339.6,803.2 2339.8,800.7 2339.9,798.2 2340.0,795.7 2340.2,793.2 2340.3,790.7 2340.5,788.2 2340.6,785.7 2340.7,783.2 2340.9,780.7 2341.0,778.3 2341.2,775.8 2341.3,773.3 2341.5,770.8 2341.6,768.3 2341.7,765.8 2341.9,763.3 2342.0,760.8 2342.2,758.3 2342.3,755.8 2342.4,753.3 2342.6,750.8 2342.7,748.3 2342.9,745.8 2343.0,743.3 2343.2,740.8 2343.3,738.3 2343.5,735.8 2343.6,733.3 2343.7,730.8 2343.9,728.3 2344.0,725.8 2344.2,723.3 2344.3,720.9 2344.5,718.4 2344.6,715.9 2344.8,713.4 2344.9,710.9 2345.1,708.4 2345.2,705.9 2345.4,703.4 2345.5,700.9 2345.7,698.4 2345.8,695.9 2346.0,693.4 2346.1,690.9 2346.3,688.4 2346.4,685.9 2346.6,683.4 2346.7,680.9 2346.9,678.4 2347.0,675.9 2347.2,673.4 2347.4,670.9 2347.5,668.5 2347.7,666.0 2347.8,663.5 2348.0,661.0 2348.1,658.5 2348.3,656.0 2348.5,653.5 2348.6,651.0 2348.8,648.5 2348.9,646.0 2349.1,643.5 2349.3,641.0 2349.4,638.5 2349.6,636.0 2349.7,633.5 2349.9,631.0 2350.1,628.5 2350.2,626.0 2350.4,623.5 2350.6,621.1 2350.7,618.6 2350.9,616.1 2351.1,613.6 2351.2,611.1 2351.4,608.6 2351.6,606.1 2351.7,603.6 2351.9,601.1 2352.1,598.6 2352.3,596.1 2352.4,593.6 2352.6,591.1 2352.8,588.6 2353.0,586.1 2353.1,583.6 2353.3,581.2 2353.5,578.7 2353.7,576.2 2353.8,573.7 2354.0,571.2 2354.2,568.7 2354.4,566.2 2354.6,563.7 2354.7,561.2 2354.9,558.7 2355.1,556.2 2355.3,553.7 2355.5,551.2 2355.7,548.7 2355.9,546.2 2356.0,543.8 2356.2,541.3 2356.4,538.8 2356.6,536.3 2356.8,533.8 2357.0,531.3 2357.2,528.8 2357.4,526.3 2357.6,523.8 2357.8,521.3 2358.0,518.8 2358.2,516.3 2358.4,513.8 2358.6,511.4 2358.8,508.9 2359.0,506.4 2359.2,503.9 2359.4,501.4 2359.6,498.9 2359.8,496.4 2360.0,493.9 2360.2,491.4 2360.4,488.9 2360.6,486.4 2360.8,483.9 2361.0,481.5 2361.2,479.0 2361.4,476.5 2361.6,474.0 2361.9,471.5 2362.1,469.0 2362.3,466.5 2362.5,464.0 2362.7,461.5 2362.9,459.0 2363.2,456.5 2363.4,454.1 2363.6,451.6 2363.8,449.1 2364.0,446.6 2364.3,444.1 2364.5,441.6 2364.7,439.1 2364.9,436.6 2365.2,434.1 2365.4,431.7 2365.6,429.2 2365.9,426.7 2366.1,424.2 2366.3,421.7 2366.6,419.2 2366.8,416.7 2367.0,414.2 2367.3,411.7 2367.5,409.3 2367.8,406.8 2368.0,404.3 2368.2,401.8 2368.5,399.3 2368.7,396.8 2369.0,394.3 2369.2,391.8 2369.5,389.4 2369.7,386.9 2370.0,384.4 2370.2,381.9 2370.5,379.4 2370.7,376.9 2371.0,374.4 2371.2,371.9 2371.5,369.5 2371.8,367.0 2372.0,364.5 2372.3,362.0 2372.6,359.5 2372.8,357.0 2373.1,354.5 2373.3,352.1 2373.6,349.6 2373.9,347.1 2374.2,344.6 2374.4,342.1 2374.7,339.6 2375.0,337.1 2375.3,334.7 2375.5,332.2 2375.8,329.7 2376.1,327.2 2376.4,324.7 2376.7,322.2 2376.9,319.8 2377.2,317.3 2377.5,314.8 2377.8,312.3 2378.1,309.8 2378.4,307.3 2378.7,304.9 2379.0,302.4 2379.3,299.9 2379.6,297.4 2379.9,294.9 2380.2,292.4 2380.5,290.0 2380.8,287.5 2381.1,285.0 2381.4,282.5 2381.7,280.0 2382.0,277.6 2382.3,275.1 2382.6,272.6 2382.9,270.1 2383.2,267.6 2383.5,265.2 2383.9,262.7 2384.2,260.2 2384.5,257.7 2384.8,255.2 2385.1,252.8 2385.5,250.3 2385.8,247.8 2386.1,245.3 2386.4,242.9 2386.8,240.4 2387.1,237.9 2387.4,235.4 2387.8,232.9 2388.1,230.5 2388.5,228.0 2388.8,225.5 2389.1,223.0 2389.5,220.6 2389.8,218.1 2390.2,215.6 2390.5,213.1 2390.9,210.7 2391.2,208.2 2391.6,205.7 2391.9,203.2 2392.3,200.8 2392.6,198.3 2393.0,195.8 2393.4,193.3 2393.7,190.9 2394.1,188.4 2394.5,185.9 2394.8,183.4 2395.2,181.0 2395.6,178.5 2395.9,176.0"/><path stroke="#000090" d="M141.0,254.5L143.5,254.2 145.9,253.9 148.4,253.6 150.9,253.3 153.4,253.1 155.9,252.8 158.4,252.6 160.9,252.4 163.4,252.2 165.8,252.0 168.3,251.9 170.8,251.8 173.3,251.6 175.8,251.5 178.3,251.4 180.8,251.3 183.3,251.3 185.8,251.2 188.3,251.2 190.8,251.1 193.3,251.1 195.8,251.1 198.3,251.1 200.8,251.1 203.3,251.1 205.8,251.1 208.3,251.1 210.8,251.2 213.3,251.2 215.8,251.3 218.3,251.3 220.8,251.4 223.3,251.4 225.8,251.5 228.3,251.5 230.8,251.6 233.3,251.7 235.8,251.7 238.3,251.8 240.8,251.9 243.3,251.9 245.8,252.0 248.3,252.1 250.8,252.1 253.3,252.2 255.8,252.3 258.3,252.3 260.8,252.4 263.3,252.4 265.8,252.5 268.3,252.5 270.8,252.5 273.3,252.6 275.8,252.6 278.3,252.6 280.8,252.6 283.3,252.6 285.8,252.6 288.3,252.6 290.8,252.5 293.3,252.5 295.8,252.4 298.3,252.3 300.8,252.3 303.3,252.2 305.8,252.1 308.3,251.9 310.8,251.8 313.3,251.7 315.8,251.5 318.3,251.3 320.8,251.1 323.2,250.9 325.7,250.7 328.2,250.4 330.7,250.2 333.2,249.9 335.7,249.7 338.2,249.4 340.6,249.1 343.1,248.8 345.6,248.5 348.1,248.2 350.6,247.8 353.0,247.5 355.5,247.2 358.0,246.8 360.5,246.4 362.9,246.1 365.4,245.7 367.9,245.4 370.4,245.0 372.8,244.6 375.3,244.2 377.8,243.8 380.2,243.4 382.7,243.1 385.2,242.7 387.6,242.3 390.1,241.9 392.6,241.5 395.1,241.1 397.5,240.7 400.0,240.3 402.5,239.9 404.9,239.5 407.4,239.2 409.9,238.8 412.3,238.4 414.8,238.0 417.3,237.7 419.8,237.3 422.2,237.0 424.7,236.6 427.2,236.2 429.7,235.9 432.1,235.5 434.6,235.2 437.1,234.9 439.6,234.5 442.0,234.2 444.5,233.9 447.0,233.5 449.5,233.2 452.0,232.9 454.4,232.6 456.9,232.3 459.4,232.0 461.9,231.7 464.4,231.4 466.8,231.1 469.3,230.8 471.8,230.5 474.3,230.2 476.8,229.9 479.3,229.6 481.7,229.3 484.2,229.1 486.7,228.8 489.2,228.5 491.7,228.3 494.2,228.0 496.7,227.8 499.1,227.5 501.6,227.3 504.1,227.0 506.6,226.8 509.1,226.5 511.6,226.3 514.1,226.1 516.6,225.8 519.0,225.6 521.5,225.4 524.0,225.2 526.5,225.0 529.0,224.7 531.5,224.5 534.0,224.3 536.5,224.1 539.0,223.9 541.5,223.8 544.0,223.6 546.5,223.4 548.9,223.2 551.4,223.1 553.9,222.9 556.4,222.8 558.9,222.6 561.4,222.5 563.9,222.4 566.4,222.3 568.9,222.2 571.4,222.1 573.9,222.0 576.4,222.0 578.9,221.9 581.4,221.9 583.9,221.9 586.4,221.9 588.9,221.9 591.4,221.9 593.9,222.0 596.4,222.0 598.9,222.1 601.4,222.2 603.9,222.3 606.4,222.5 608.9,222.6 611.4,222.8 613.9,223.0 616.4,223.2 618.9,223.5 621.3,223.7 623.8,224.0 626.3,224.3 628.8,224.7 631.3,225.0 633.7,225.4 636.2,225.8 638.7,226.2 641.1,226.7 643.6,227.2 646.0,227.7 648.5,228.2 650.9,228.8 653.3,229.4 655.7,230.0 658.2,230.6 660.6,231.3 663.0,232.0 665.4,232.7 667.8,233.3 670.2,234.0 672.6,234.6 675.0,235.2 677.5,235.8 679.9,236.3 682.4,236.8 684.8,237.2 687.3,237.5 689.8,237.7 692.3,237.9 694.8,237.9 697.3,237.8 699.8,237.6 702.3,237.2 704.7,236.7 707.1,236.0 709.5,235.2 711.8,234.4 714.2,233.5 716.5,232.5 718.7,231.4 721.0,230.4 723.3,229.3 725.5,228.2 727.8,227.1 730.0,226.0 732.3,225.0 734.6,224.0 736.9,223.0 739.2,222.2 741.6,221.4 744.0,220.6 746.4,220.0 748.8,219.4 751.3,219.0 753.8,218.6 756.2,218.2 758.7,218.0 761.2,217.8 763.7,217.6 766.2,217.6 768.7,217.6 771.2,217.6 773.7,217.7 776.2,217.9 778.7,218.1 781.2,218.3 783.7,218.6 786.1,218.9 788.6,219.3 791.1,219.7 793.6,220.1 796.0,220.5 798.5,221.0 800.9,221.4 803.4,221.9 805.8,222.4 808.3,222.9 810.7,223.4 813.2,223.9 815.6,224.4 818.1,224.9 820.5,225.4 823.0,225.8 825.5,226.3 827.9,226.7 830.4,227.0 832.9,227.4 835.3,227.7 837.8,228.0 840.3,228.2 842.8,228.4 845.3,228.6 847.8,228.7 850.3,228.8 852.8,228.8 855.3,228.8 857.8,228.8 860.3,228.7 862.8,228.7 865.3,228.6 867.8,228.4 870.3,228.2 872.8,228.1 875.3,227.8 877.8,227.6 880.2,227.4 882.7,227.1 885.2,226.8 887.7,226.5 890.2,226.2 892.7,225.8 895.1,225.5 897.6,225.1 900.1,224.7 902.5,224.4 905.0,224.0 907.5,223.6 909.9,223.2 912.4,222.8 914.9,222.3 917.3,221.9 919.8,221.5 922.3,221.1 924.7,220.7 927.2,220.3 929.7,219.9 932.1,219.5 934.6,219.2 937.1,218.9 939.6,218.6 942.1,218.4 944.6,218.2 947.1,218.1 949.6,218.0 952.1,218.0 954.6,218.0 957.1,218.2 959.6,218.4 962.0,218.7 964.5,219.1 966.9,219.6 969.4,220.3 971.7,221.0 974.1,221.9 976.4,222.9 978.6,224.0 980.8,225.2 982.9,226.5 985.0,227.9 987.0,229.4 989.0,230.9 990.9,232.6 992.7,234.3 994.5,236.0 996.2,237.8 997.9,239.7 999.5,241.6 1001.1,243.5 1002.6,245.5 1004.0,247.6 1005.4,249.6 1006.8,251.7 1008.1,253.9 1009.4,256.0 1010.6,258.2 1011.8,260.4 1012.9,262.6 1014.1,264.8 1015.3,267.0 1016.6,269.2 1017.9,271.3 1019.4,273.3 1021.0,275.2 1022.7,277.0 1024.6,278.6 1026.7,280.0 1028.9,281.2 1031.3,282.1 1033.7,282.7 1036.1,283.1 1038.6,283.1 1041.1,282.9 1043.6,282.4 1045.9,281.5 1048.1,280.3 1050.1,278.8 1051.9,277.1 1053.7,275.3 1055.3,273.5 1057.0,271.6 1058.6,269.7 1060.3,267.9 1062.1,266.1 1064.0,264.4 1065.9,262.8 1067.9,261.3 1069.9,259.9 1072.1,258.6 1074.3,257.4 1076.5,256.3 1078.8,255.4 1081.2,254.6 1083.6,253.8 1086.0,253.3 1088.5,252.8 1091.0,252.5 1093.5,252.3 1096.0,252.3 1098.5,252.3 1100.9,252.5 1103.4,252.8 1105.9,253.2 1108.3,253.7 1110.8,254.2 1113.2,254.8 1115.6,255.4 1118.1,256.0 1120.5,256.7 1122.9,257.3 1125.3,257.9 1127.8,258.4 1130.2,259.0 1132.7,259.4 1135.2,259.7 1137.6,260.0 1140.1,260.0 1142.6,260.0 1145.1,259.9 1147.6,259.9 1150.1,259.9 1152.6,260.1 1155.1,260.5 1157.5,261.1 1159.9,261.8 1162.2,262.7 1164.5,263.7 1166.8,264.7 1169.1,265.8 1171.3,266.8 1173.6,267.9 1175.9,268.9 1178.2,269.9 1180.5,270.7 1182.9,271.5 1185.4,272.0 1187.9,272.3 1190.3,272.4 1192.8,272.2 1195.3,271.7 1197.7,271.0 1200.0,270.0 1202.2,268.8 1204.3,267.4 1206.2,265.9 1208.2,264.3 1210.0,262.6 1211.7,260.8 1213.5,259.0 1215.1,257.1 1216.7,255.2 1218.4,253.3 1219.9,251.4 1221.5,249.4 1223.1,247.5 1224.7,245.6 1226.3,243.6 1227.9,241.7 1229.5,239.8 1231.2,238.0 1232.9,236.2 1234.7,234.4 1236.5,232.7 1238.4,231.1 1240.4,229.5 1242.4,228.1 1244.5,226.7 1246.7,225.4 1248.9,224.3 1251.1,223.2 1253.4,222.2 1255.8,221.3 1258.1,220.6 1260.6,219.9 1263.0,219.3 1265.4,218.9 1267.9,218.5 1270.4,218.3 1272.9,218.1 1275.4,218.1 1277.9,218.1 1280.4,218.3 1282.9,218.6 1285.4,218.9 1287.8,219.4 1290.2,220.0 1292.6,220.7 1295.0,221.5 1297.3,222.4 1299.6,223.5 1301.8,224.6 1304.0,225.9 1306.1,227.2 1308.1,228.6 1310.1,230.2 1312.0,231.8 1313.9,233.5 1315.7,235.2 1317.4,237.0 1319.0,238.9 1320.6,240.8 1322.2,242.8 1323.7,244.8 1325.1,246.8 1326.5,248.9 1327.8,251.0 1329.1,253.2 1330.4,255.3 1331.6,257.5 1332.7,259.7 1333.9,262.0 1335.0,264.2 1336.0,266.5 1337.0,268.8 1338.0,271.1 1339.0,273.4 1339.9,275.7 1340.8,278.0 1341.7,280.4 1342.6,282.7 1343.4,285.1 1344.2,287.4 1345.0,289.8 1345.8,292.2 1346.5,294.5 1347.3,296.9 1348.0,299.3 1348.7,301.7 1349.4,304.1 1350.1,306.5 1350.8,308.9 1351.5,311.3 1352.1,313.8 1352.8,316.2 1353.4,318.6 1354.0,321.0 1354.6,323.4 1355.2,325.9 1355.8,328.3 1356.4,330.7 1356.9,333.2 1357.5,335.6 1358.0,338.0 1358.6,340.5 1359.1,342.9 1359.6,345.4 1360.1,347.8 1360.6,350.3 1361.1,352.7 1361.5,355.2 1362.0,357.6 1362.4,360.1 1362.9,362.6 1363.3,365.0 1363.8,367.5 1364.2,369.9 1364.6,372.4 1365.0,374.9 1365.4,377.3 1365.8,379.8 1366.2,382.3 1366.6,384.7 1367.0,387.2 1367.4,389.7 1367.7,392.2 1368.1,394.6 1368.5,397.1 1368.9,399.6 1369.2,402.0 1369.6,404.5 1369.9,407.0 1370.3,409.5 1370.6,411.9 1371.0,414.4 1371.3,416.9 1371.7,419.4 1372.0,421.8 1372.4,424.3 1372.7,426.8 1373.0,429.3 1373.4,431.7 1373.7,434.2 1374.0,436.7 1374.4,439.2 1374.7,441.7 1375.0,444.1 1375.3,446.6 1375.7,449.1 1376.0,451.6 1376.3,454.1 1376.6,456.5 1377.0,459.0 1377.3,461.5 1377.6,464.0 1377.9,466.5 1378.2,468.9 1378.5,471.4 1378.9,473.9 1379.2,476.4 1379.5,478.8 1379.8,481.3 1380.1,483.8 1380.4,486.3 1380.7,488.8 1381.0,491.2 1381.4,493.7 1381.7,496.2 1382.0,498.7 1382.3,501.2 1382.6,503.6 1382.9,506.1 1383.3,508.6 1383.6,511.1 1383.9,513.6 1384.2,516.0 1384.6,518.5 1384.9,521.0 1385.2,523.5 1385.6,526.0 1385.9,528.4 1386.3,530.9 1386.6,533.4 1386.9,535.9 1387.3,538.3 1387.7,540.8 1388.0,543.3 1388.4,545.7 1388.8,548.2 1389.1,550.7 1389.5,553.2 1389.9,555.6 1390.3,558.1 1390.7,560.6 1391.1,563.0 1391.5,565.5 1391.9,568.0 1392.3,570.4 1392.7,572.9 1393.1,575.4 1393.6,577.8 1394.0,580.3 1394.5,582.7 1394.9,585.2 1395.4,587.7 1395.9,590.1 1396.3,592.6 1396.9,595.0 1397.4,597.5 1397.9,599.9 1398.5,602.3 1399.1,604.8 1399.7,607.2 1400.4,609.6 1401.0,612.0 1401.7,614.4 1402.5,616.8 1403.3,619.2 1404.2,621.5 1405.3,623.7 1407.0,625.6 1409.4,625.6 1411.4,624.2 1413.0,622.3 1414.5,620.3 1415.9,618.2 1417.1,616.0 1418.2,613.8 1419.2,611.5 1420.0,609.1 1420.8,606.8 1421.5,604.4 1422.2,601.9 1422.8,599.5 1423.3,597.1 1423.8,594.6 1424.3,592.2 1424.7,589.7 1425.1,587.2 1425.5,584.8 1425.8,582.3 1426.2,579.8 1426.5,577.3 1426.9,574.9 1427.2,572.4 1427.5,569.9 1427.9,567.4 1428.2,565.0 1428.6,562.5 1429.0,560.0 1429.4,557.5 1429.8,555.1 1430.2,552.6 1430.6,550.2 1431.1,547.7 1431.6,545.2 1432.0,542.8 1432.5,540.3 1433.0,537.9 1433.5,535.4 1433.9,533.0 1434.4,530.5 1434.9,528.1 1435.4,525.6 1435.9,523.2 1436.3,520.7 1436.8,518.2 1437.3,515.8 1437.7,513.3 1438.2,510.9 1438.6,508.4 1439.1,506.0 1439.5,503.5 1439.9,501.0 1440.4,498.6 1440.8,496.1 1441.2,493.6 1441.6,491.2 1442.1,488.7 1442.5,486.3 1442.9,483.8 1443.3,481.3 1443.7,478.9 1444.1,476.4 1444.5,473.9 1444.9,471.5 1445.3,469.0 1445.7,466.5 1446.1,464.0 1446.5,461.6 1446.9,459.1 1447.3,456.6 1447.7,454.2 1448.0,451.7 1448.4,449.2 1448.8,446.8 1449.2,444.3 1449.6,441.8 1450.0,439.4 1450.4,436.9 1450.7,434.4 1451.1,431.9 1451.5,429.5 1451.9,427.0 1452.3,424.5 1452.7,422.1 1453.1,419.6 1453.4,417.1 1453.8,414.7 1454.2,412.2 1454.6,409.7 1455.0,407.3 1455.4,404.8 1455.8,402.3 1456.2,399.8 1456.6,397.4 1457.0,394.9 1457.4,392.4 1457.8,390.0 1458.2,387.5 1458.6,385.0 1459.0,382.6 1459.5,380.1 1459.9,377.7 1460.3,375.2 1460.7,372.7 1461.1,370.3 1461.6,367.8 1462.0,365.3 1462.5,362.9 1462.9,360.4 1463.4,358.0 1463.8,355.5 1464.3,353.0 1464.7,350.6 1465.2,348.1 1465.7,345.7 1466.1,343.2 1466.6,340.8 1467.1,338.3 1467.6,335.9 1468.1,333.4 1468.6,331.0 1469.1,328.5 1469.6,326.1 1470.1,323.6 1470.7,321.2 1471.2,318.7 1471.7,316.3 1472.3,313.9 1472.8,311.4 1473.4,309.0 1474.0,306.6 1474.5,304.1 1475.1,301.7 1475.7,299.3 1476.3,296.8 1476.9,294.4 1477.5,292.0 1478.1,289.6 1478.8,287.1 1479.4,284.7 1480.1,282.3 1480.8,279.9 1481.6,277.6 1482.4,275.2 1483.2,272.8 1484.0,270.5 1484.9,268.1 1485.8,265.8 1486.8,263.5 1487.8,261.2 1488.9,259.0 1490.0,256.7 1491.2,254.5 1492.5,252.4 1493.8,250.2 1495.1,248.1 1496.6,246.1 1498.1,244.1 1499.7,242.2 1501.3,240.3 1503.0,238.5 1504.8,236.7 1506.6,235.0 1508.5,233.4 1510.5,231.8 1512.5,230.4 1514.6,229.0 1516.7,227.7 1518.9,226.4 1521.1,225.2 1523.3,224.1 1525.6,223.1 1527.9,222.1 1530.3,221.3 1532.6,220.5 1535.0,219.7 1537.4,219.1 1539.9,218.6 1542.3,218.1 1544.8,217.8 1547.3,217.6 1549.8,217.4 1552.3,217.5 1554.8,217.6 1557.3,217.9 1559.7,218.4 1562.1,219.1 1564.5,219.9 1566.7,221.0 1568.9,222.2 1571.0,223.6 1573.0,225.1 1574.9,226.8 1576.7,228.5 1578.4,230.3 1580.0,232.2 1581.6,234.1 1583.2,236.1 1584.7,238.1 1586.2,240.1 1587.6,242.1 1589.1,244.1 1590.6,246.2 1592.0,248.2 1593.5,250.2 1595.0,252.2 1596.5,254.2 1598.1,256.1 1599.7,258.0 1601.4,259.9 1603.2,261.7 1605.0,263.4 1606.9,265.0 1608.8,266.6 1610.9,268.0 1613.0,269.3 1615.2,270.6 1617.4,271.6 1619.7,272.6 1622.1,273.4 1624.5,274.0 1627.0,274.5 1629.5,274.7 1632.0,274.9 1634.5,275.0 1637.0,275.0 1639.5,275.0 1642.0,275.0 1644.5,275.0 1647.0,275.2 1649.4,275.4 1651.9,275.7 1654.4,276.3 1656.7,277.0 1659.1,278.0 1661.3,279.1 1663.4,280.4 1665.4,281.9 1667.4,283.4 1669.3,285.0 1671.1,286.7 1672.9,288.5 1674.7,290.3 1676.3,292.2 1677.9,294.1 1679.5,296.0 1681.0,298.0 1682.5,300.0 1683.8,302.1 1685.2,304.2 1686.5,306.4 1687.7,308.5 1688.9,310.7 1690.1,312.9 1691.2,315.2 1692.3,317.4 1693.3,319.7 1694.3,322.0 1695.3,324.3 1696.2,326.6 1697.2,328.9 1698.1,331.3 1699.0,333.6 1699.9,335.9 1700.7,338.3 1701.6,340.6 1702.5,343.0 1703.3,345.3 1704.2,347.7 1705.1,350.0 1705.9,352.3 1706.8,354.7 1707.7,357.0 1708.6,359.3 1709.5,361.7 1710.5,364.0 1711.4,366.3 1712.3,368.6 1713.3,370.9 1714.2,373.3 1715.2,375.6 1716.2,377.9 1717.1,380.2 1718.1,382.5 1719.1,384.8 1720.1,387.1 1721.1,389.3 1722.1,391.6 1723.1,393.9 1724.2,396.2 1725.2,398.5 1726.2,400.7 1727.3,403.0 1728.3,405.3 1729.4,407.6 1730.4,409.8 1731.5,412.1 1732.5,414.4 1733.6,416.6 1734.7,418.9 1735.8,421.1 1736.8,423.4 1737.9,425.6 1739.0,427.9 1740.1,430.1 1741.2,432.4 1742.3,434.6 1743.4,436.9 1744.5,439.1 1745.6,441.3 1746.7,443.6 1747.9,445.8 1749.0,448.1 1750.1,450.3 1751.2,452.5 1752.3,454.8 1753.4,457.0 1754.6,459.2 1755.7,461.5 1756.8,463.7 1757.9,465.9 1759.1,468.2 1760.2,470.4 1761.3,472.6 1762.5,474.8 1763.6,477.1 1764.7,479.3 1765.8,481.5 1767.0,483.8 1768.1,486.0 1769.2,488.2 1770.3,490.5 1771.5,492.7 1772.6,494.9 1773.7,497.2 1774.8,499.4 1775.9,501.7 1777.0,503.9 1778.1,506.1 1779.2,508.4 1780.3,510.6 1781.4,512.9 1782.5,515.1 1783.6,517.4 1784.7,519.6 1785.7,521.9 1786.8,524.2 1787.9,526.4 1788.9,528.7 1789.9,531.0 1791.0,533.2 1792.0,535.5 1793.0,537.8 1794.0,540.1 1795.1,542.4 1796.0,544.7 1797.0,547.0 1798.0,549.3 1799.0,551.6 1799.9,553.9 1800.9,556.2 1801.8,558.5 1802.7,560.8 1803.6,563.2 1804.5,565.5 1805.4,567.8 1806.3,570.2 1807.2,572.5 1808.0,574.9 1808.9,577.2 1809.7,579.6 1810.5,581.9 1811.4,584.3 1812.2,586.6 1813.0,589.0 1813.9,591.4 1814.7,593.7 1815.5,596.1 1816.4,598.4 1817.2,600.8 1818.1,603.1 1819.0,605.5 1819.8,607.8 1820.7,610.1 1821.6,612.5 1822.6,614.8 1823.5,617.1 1824.4,619.4 1825.4,621.7 1826.4,624.0 1827.4,626.3 1828.4,628.6 1829.5,630.9 1830.5,633.1 1831.6,635.4 1832.8,637.6 1834.0,639.8 1835.3,641.9 1836.6,644.0 1838.1,646.1 1839.6,648.0 1841.3,649.9 1843.1,651.6 1845.1,653.1 1847.2,654.5 1849.4,655.7 1851.7,656.6 1854.1,657.3 1856.6,657.8 1859.0,657.9 1861.5,657.7 1864.0,657.0 1866.2,656.0 1868.3,654.6 1870.1,652.9 1871.7,651.0 1873.1,648.9 1874.4,646.8 1875.6,644.6 1876.7,642.4 1877.8,640.1 1878.8,637.8 1879.8,635.5 1880.8,633.2 1881.8,630.9 1882.7,628.6 1883.6,626.3 1884.5,623.9 1885.4,621.6 1886.2,619.2 1887.1,616.9 1887.9,614.5 1888.7,612.2 1889.5,609.8 1890.2,607.4 1891.0,605.0 1891.7,602.6 1892.4,600.2 1893.1,597.8 1893.8,595.4 1894.4,593.0 1895.1,590.6 1895.7,588.2 1896.3,585.8 1897.0,583.3 1897.6,580.9 1898.2,578.5 1898.8,576.1 1899.4,573.6 1900.0,571.2 1900.6,568.8 1901.1,566.3 1901.7,563.9 1902.3,561.5 1902.8,559.0 1903.4,556.6 1904.0,554.2 1904.5,551.7 1905.1,549.3 1905.6,546.8 1906.1,544.4 1906.7,542.0 1907.2,539.5 1907.7,537.1 1908.3,534.6 1908.8,532.2 1909.3,529.8 1909.8,527.3 1910.4,524.9 1910.9,522.4 1911.4,520.0 1911.9,517.5 1912.4,515.1 1912.9,512.6 1913.5,510.2 1914.0,507.7 1914.5,505.3 1915.0,502.8 1915.5,500.4 1916.0,498.0 1916.5,495.5 1917.0,493.1 1917.5,490.6 1918.1,488.2 1918.6,485.7 1919.1,483.3 1919.6,480.8 1920.1,478.4 1920.6,475.9 1921.1,473.5 1921.7,471.0 1922.2,468.6 1922.7,466.2 1923.2,463.7 1923.8,461.3 1924.3,458.8 1924.8,456.4 1925.4,453.9 1925.9,451.5 1926.5,449.1 1927.0,446.6 1927.6,444.2 1928.1,441.8 1928.7,439.3 1929.3,436.9 1929.8,434.4 1930.4,432.0 1931.0,429.6 1931.6,427.2 1932.2,424.7 1932.8,422.3 1933.4,419.9 1934.0,417.4 1934.6,415.0 1935.2,412.6 1935.8,410.2 1936.5,407.8 1937.1,405.4 1937.8,402.9 1938.4,400.5 1939.1,398.1 1939.8,395.7 1940.4,393.3 1941.1,390.9 1941.8,388.5 1942.5,386.1 1943.3,383.7 1944.0,381.3 1944.7,378.9 1945.5,376.6 1946.3,374.2 1947.1,371.8 1947.9,369.4 1948.7,367.1 1949.5,364.7 1950.4,362.4 1951.3,360.0 1952.1,357.7 1953.1,355.4 1954.0,353.0 1954.9,350.7 1955.9,348.4 1956.9,346.1 1957.9,343.8 1958.9,341.6 1959.9,339.3 1961.0,337.0 1962.1,334.8 1963.2,332.5 1964.4,330.3 1965.5,328.1 1966.8,326.0 1968.1,323.8 1969.5,321.8 1971.1,319.8 1972.7,317.9 1974.5,316.1 1976.4,314.6 1978.6,313.3 1980.9,312.5 1983.4,312.1 1985.9,312.3 1988.3,312.9 1990.6,313.9 1992.8,315.1 1994.9,316.4 1996.9,318.0 1998.8,319.6 2000.6,321.3 2002.3,323.2 2003.9,325.1 2005.4,327.1 2006.8,329.1 2008.2,331.2 2009.4,333.4 2010.5,335.7 2011.5,338.0 2012.4,340.3 2013.2,342.6 2014.0,345.0 2014.8,347.4 2015.5,349.8 2016.2,352.2 2016.9,354.6 2017.7,357.0 2018.5,359.3 2019.3,361.7 2020.1,364.1 2020.9,366.4 2021.7,368.8 2022.5,371.2 2023.3,373.5 2024.2,375.9 2025.0,378.2 2025.9,380.6 2026.7,382.9 2027.5,385.3 2028.3,387.7 2029.2,390.0 2030.0,392.4 2030.7,394.8 2031.5,397.1 2032.3,399.5 2033.0,401.9 2033.8,404.3 2034.5,406.7 2035.1,409.1 2035.8,411.5 2036.4,413.9 2037.0,416.4 2037.6,418.8 2038.2,421.2 2038.7,423.7 2039.3,426.1 2039.9,428.5 2040.5,430.9 2041.2,433.3 2041.9,435.7 2042.7,438.1 2043.6,440.4 2044.7,442.7 2045.8,444.9 2047.1,447.1 2048.5,449.1 2050.1,451.1 2051.8,452.9 2053.6,454.6 2055.6,456.1 2057.7,457.4 2060.0,458.4 2062.5,458.9 2064.9,458.7 2067.3,457.8 2069.3,456.4 2071.1,454.7 2072.8,452.8 2074.2,450.7 2075.6,448.6 2076.8,446.5 2078.0,444.3 2079.2,442.1 2080.2,439.8 2081.3,437.5 2082.2,435.2 2083.2,432.9 2084.1,430.6 2085.0,428.2 2085.8,425.9 2086.7,423.5 2087.5,421.2 2088.3,418.8 2089.1,416.5 2090.0,414.1 2090.9,411.8 2091.8,409.4 2092.7,407.1 2093.7,404.8 2094.7,402.5 2095.8,400.3 2096.9,398.0 2098.1,395.8 2099.4,393.7 2100.7,391.6 2102.1,389.5 2103.6,387.5 2105.2,385.6 2107.0,383.8 2108.9,382.3 2111.1,381.0 2113.5,380.3 2116.0,380.1 2118.4,380.5 2120.8,381.3 2123.1,382.3 2125.4,383.3 2127.7,384.3 2130.0,385.2 2132.4,385.9 2134.9,386.4 2137.3,386.6 2139.8,386.6 2142.3,386.2 2144.7,385.4 2146.8,384.1 2148.7,382.5 2150.2,380.5 2151.5,378.4 2152.6,376.1 2153.5,373.8 2154.3,371.4 2155.1,369.0 2155.8,366.6 2156.4,364.2 2157.1,361.8 2157.7,359.4 2158.3,357.0 2159.0,354.6 2159.7,352.1 2160.3,349.7 2161.0,347.3 2161.7,344.9 2162.4,342.5 2163.2,340.1 2163.9,337.8 2164.7,335.4 2165.4,333.0 2166.2,330.6 2167.0,328.2 2167.8,325.9 2168.6,323.5 2169.4,321.2 2170.2,318.8 2171.1,316.4 2171.9,314.1 2172.8,311.7 2173.7,309.4 2174.6,307.1 2175.5,304.7 2176.4,302.4 2177.3,300.1 2178.2,297.8 2179.1,295.4 2180.1,293.1 2181.0,290.8 2182.0,288.5 2182.9,286.2 2183.9,283.9 2184.9,281.6 2185.9,279.3 2186.8,277.0 2187.8,274.7 2188.8,272.4 2189.8,270.1 2190.8,267.8 2191.8,265.5 2192.8,263.2 2193.8,260.9 2194.8,258.7 2195.9,256.4 2196.9,254.1 2197.9,251.8 2198.9,249.5 2200.0,247.3 2201.0,245.0 2202.0,242.7 2203.1,240.4 2204.1,238.2 2205.2,235.9 2206.3,233.6 2207.4,231.4 2208.6,229.2 2209.8,227.0 2211.1,224.9 2212.4,222.8 2213.9,220.7 2215.4,218.7 2216.9,216.8 2218.6,214.9 2220.3,213.1 2222.1,211.4 2224.0,209.8 2226.0,208.2 2228.1,206.8 2230.2,205.5 2232.4,204.3 2234.7,203.3 2237.1,202.6 2239.5,202.2 2242.0,202.2 2244.4,202.9 2246.6,204.1 2248.6,205.6 2250.3,207.5 2251.8,209.5 2253.1,211.6 2254.3,213.8 2255.4,216.0 2256.4,218.3 2257.4,220.6 2258.3,222.9 2259.1,225.3 2260.0,227.6 2260.7,230.0 2261.5,232.4 2262.3,234.8 2263.0,237.2 2263.8,239.5 2264.5,241.9 2265.2,244.3 2265.9,246.7 2266.6,249.1 2267.3,251.5 2268.0,253.9 2268.7,256.3 2269.3,258.7 2270.0,261.2 2270.7,263.6 2271.3,266.0 2272.0,268.4 2272.6,270.8 2273.2,273.2 2273.9,275.6 2274.5,278.1 2275.2,280.5 2275.8,282.9 2276.5,285.3 2277.1,287.7 2277.7,290.1 2278.4,292.6 2279.0,295.0 2279.7,297.4 2280.3,299.8 2281.0,302.2 2281.7,304.6 2282.3,307.0 2283.0,309.4 2283.7,311.8 2284.4,314.2 2285.1,316.6 2285.8,319.0 2286.5,321.4 2287.4,323.8 2288.3,326.1 2289.5,328.3 2291.2,330.1 2293.5,330.7 2295.8,329.6 2297.6,327.9 2299.1,325.9 2300.5,323.8 2301.6,321.6 2302.7,319.3 2303.5,317.0 2304.3,314.6 2305.0,312.2 2305.5,309.8 2306.0,307.3 2306.5,304.8 2306.9,302.4 2307.3,299.9 2307.6,297.4 2308.0,295.0 2308.3,292.5 2308.7,290.0 2309.1,287.5 2309.5,285.1 2309.9,282.6 2310.4,280.2 2311.0,277.7 2311.5,275.3 2312.1,272.9 2312.7,270.4 2313.3,268.0 2314.0,265.6 2314.7,263.2 2315.5,260.8 2316.2,258.4 2317.0,256.1 2317.8,253.7 2318.7,251.4 2319.6,249.0 2320.4,246.7 2321.3,244.3 2322.2,242.0 2323.2,239.7 2324.1,237.4 2325.1,235.1 2326.0,232.8 2327.0,230.5 2328.0,228.2 2329.0,225.9 2330.1,223.6 2331.2,221.4 2332.4,219.2 2333.7,217.0 2335.1,215.0 2336.6,213.0 2338.3,211.2 2340.2,209.5 2342.3,208.2 2344.6,207.2 2347.0,206.5 2349.5,206.3 2352.0,206.4 2354.4,206.8 2356.9,207.4 2359.2,208.2 2361.6,209.2 2363.8,210.2 2366.0,211.5 2368.1,212.8 2370.1,214.3 2372.0,215.9 2373.9,217.5 2375.7,219.3 2377.5,221.0 2379.1,222.9 2380.8,224.8 2382.3,226.7 2383.9,228.7 2385.4,230.7 2386.8,232.7 2388.3,234.8 2389.7,236.8 2391.2,238.9 2392.6,240.9 2394.0,243.0 2395.5,245.0 2397.0,247.0"/></g><rect x="138.4" y="34.1" width="2258.2" height="1775.6" fill="none" stroke="#000" stroke-width="8" stroke-linejoin="round"/><g stroke="#000" stroke-width="6.5"><line x1="640" y1="1809" x2="640" y2="1789.6"/><line x1="1142" y1="1809" x2="1142" y2="1771"/><line x1="1643.5" y1="1809" x2="1643.5" y2="1789.6"/><line x1="2145" y1="1809" x2="2145" y2="1771"/></g><text transform="translate(60.4,1902.3) scale(1,1.0414)" font-family="Liberation Sans, Arial, sans-serif" font-size="71.8" fill="#000" stroke="#000" stroke-width="0.5">1000</text><text transform="translate(1082.0,1903.4) scale(1,1.0414)" font-family="Liberation Sans, Arial, sans-serif" font-size="71.8" fill="#000" stroke="#000" stroke-width="0.5">800</text><text transform="translate(2083.2,1903.5) scale(1,1.0414)" font-family="Liberation Sans, Arial, sans-serif" font-size="71.8" fill="#000" stroke="#000" stroke-width="0.5">600</text><text transform="translate(860.1,2059.9) scale(1,1.0414)" font-family="Liberation Sans, Arial, sans-serif" font-size="88.2" fill="#000" stroke="#000" stroke-width="0.5">Wavenumbers (cm</text><text transform="translate(1596.2,2012.1) scale(1,1.0414)" font-family="Liberation Sans, Arial, sans-serif" font-size="51.0" fill="#000" stroke="#000" stroke-width="0.5">-1</text><text transform="translate(1648.3,2059.9) scale(1,1.0414)" font-family="Liberation Sans, Arial, sans-serif" font-size="88.2" fill="#000" stroke="#000" stroke-width="0.5">)</text><text transform="translate(91.25,1262.2) rotate(-90) scale(1,1.0414)" font-family="Liberation Sans, Arial, sans-serif" font-size="88" fill="#000" stroke="#000" stroke-width="0.5">Transmittance (%)</text><rect x="168.1" y="1428.1" width="716.6" height="322.1" fill="#fff" stroke="#6a6a6a" stroke-width="4"/><g stroke-width="8.5" stroke-linecap="round"><line x1="203.2" y1="1486.6" x2="400" y2="1486.6" stroke="#000"/><line x1="203.2" y1="1594" x2="400" y2="1594" stroke="#ff0000"/><line x1="203.2" y1="1700.8" x2="400" y2="1700.8" stroke="#000090"/></g><text transform="translate(422.8,1515.5) scale(1,1.0414)" font-family="Liberation Sans, Arial, sans-serif" font-size="88.0" fill="#000" stroke="#000" stroke-width="0.5">UiO-66</text><text transform="translate(422.5,1623.5) scale(1,1.0414)" font-family="Liberation Sans, Arial, sans-serif" font-size="88.0" fill="#000" stroke="#000" stroke-width="0.5">IL</text><text transform="translate(422.5,1730.3) scale(1,1.0414)" font-family="Liberation Sans, Arial, sans-serif" font-size="88.0" fill="#000" stroke="#000" stroke-width="0.5">IL@UiO-66</text><text transform="translate(1743.3,105.3) scale(1,1.0414)" font-family="Liberation Sans, Arial, sans-serif" font-size="62.8" fill="#1e1e1e" stroke="#1e1e1e" stroke-width="0.5">Zr-O modes</text><text transform="translate(1464.4,1517.3) scale(1,1.0414)" font-family="Liberation Sans, Arial, sans-serif" font-size="55.2" fill="#1e1e1e" stroke="#1e1e1e" stroke-width="0.5">SNS bending</text><text transform="translate(1077.3,1685.8) scale(1,1.0414)" font-family="Liberation Sans, Arial, sans-serif" font-size="54.7" fill="#1e1e1e" stroke="#1e1e1e" stroke-width="0.5">SOO antisymmetric bending</text><text transform="translate(1653.2,1750.7) scale(1,1.0414)" font-family="Liberation Sans, Arial, sans-serif" font-size="52.2" fill="#1e1e1e" stroke="#1e1e1e" stroke-width="0.5">CF</text><text transform="translate(1718.9,1774.8) scale(1,1.0414)" font-family="Liberation Sans, Arial, sans-serif" font-size="38.0" fill="#1e1e1e" stroke="#1e1e1e" stroke-width="0.5">3</text><text transform="translate(1767.3,1750.7) scale(1,1.0414)" font-family="Liberation Sans, Arial, sans-serif" font-size="52.2" fill="#1e1e1e" stroke="#1e1e1e" stroke-width="0.5">antisymmetric bending</text></svg></body></html>
